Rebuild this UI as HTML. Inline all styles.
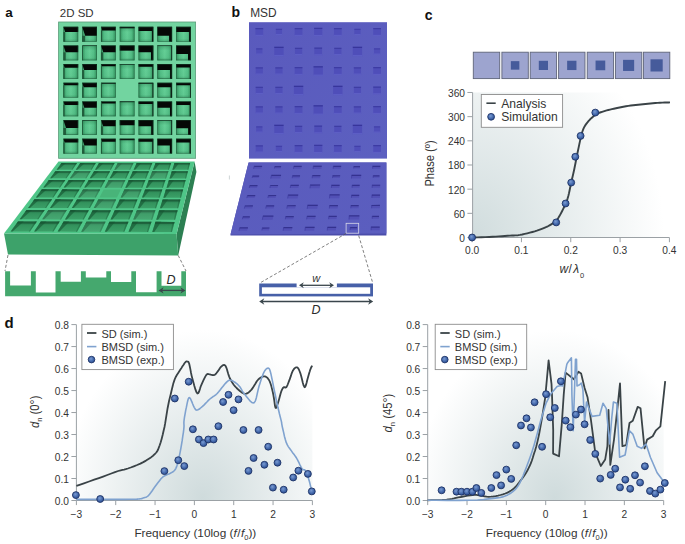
<!DOCTYPE html><html><head><meta charset="utf-8"><style>html,body{margin:0;padding:0;background:#fff;}svg{display:block;}text{font-family:"Liberation Sans",sans-serif;}</style></head><body>
<svg width="685" height="544" viewBox="0 0 685 544">
<defs>
<linearGradient id="gcellh" x1="0" y1="0" x2="1" y2="0"><stop offset="0" stop-color="#338f5c"/><stop offset="0.22" stop-color="#54bf87"/><stop offset="0.5" stop-color="#64cf96"/><stop offset="0.78" stop-color="#54bf87"/><stop offset="1" stop-color="#338f5c"/></linearGradient>
<linearGradient id="gcellv" x1="0" y1="0" x2="0" y2="1"><stop offset="0" stop-color="#1e6a40" stop-opacity="0.35"/><stop offset="0.35" stop-color="#1e6a40" stop-opacity="0"/><stop offset="0.8" stop-color="#1e6a40" stop-opacity="0.05"/><stop offset="1" stop-color="#1e6a40" stop-opacity="0.35"/></linearGradient>
<linearGradient id="scell" x1="0" y1="0" x2="0" y2="1"><stop offset="0" stop-color="#236f46"/><stop offset="0.4" stop-color="#33935d"/><stop offset="1" stop-color="#3b9f67"/></linearGradient>
<radialGradient id="svig" cx="0.6" cy="0.62" r="0.75"><stop offset="0" stop-color="#0c3a20" stop-opacity="0"/><stop offset="0.55" stop-color="#0c3a20" stop-opacity="0"/><stop offset="1" stop-color="#0c3a20" stop-opacity="0.55"/></radialGradient>
<radialGradient id="ptg" cx="0.42" cy="0.38" r="0.65"><stop offset="0" stop-color="#7a9bd2"/><stop offset="0.6" stop-color="#4368ab"/><stop offset="1" stop-color="#2c4f92"/></radialGradient>
<radialGradient id="cg" gradientUnits="userSpaceOnUse" cx="472" cy="237.5" r="192" gradientTransform="translate(472 237.5) scale(1 1.2) translate(-472 -237.5)"><stop offset="0" stop-color="#d0dcdd"/><stop offset="1" stop-color="#ffffff"/></radialGradient>
<radialGradient id="dg1" gradientUnits="userSpaceOnUse" cx="203" cy="498" r="140" gradientTransform="translate(203 498) scale(1 1.2) translate(-203 -498)"><stop offset="0" stop-color="#cfdbdc"/><stop offset="1" stop-color="#ffffff"/></radialGradient>
<radialGradient id="dg2" gradientUnits="userSpaceOnUse" cx="555" cy="498" r="140" gradientTransform="translate(555 498) scale(1 1.2) translate(-555 -498)"><stop offset="0" stop-color="#cfdbdc"/><stop offset="1" stop-color="#ffffff"/></radialGradient>
<linearGradient id="bplate" x1="0" y1="0" x2="1" y2="1"><stop offset="0" stop-color="#5a5abd"/><stop offset="1" stop-color="#5c60c0"/></linearGradient>
<linearGradient id="bslab" x1="0" y1="0" x2="1" y2="1"><stop offset="0" stop-color="#5a5bbd"/><stop offset="1" stop-color="#5b5ebf"/></linearGradient>
</defs>
<rect width="685" height="544" fill="#fff"/>
<text x="5.2" y="16.8" font-weight="bold" font-size="13.5" fill="#111">a</text>
<text x="231.5" y="16.6" font-weight="bold" font-size="14" fill="#111">b</text>
<text x="424.7" y="19.5" font-weight="bold" font-size="14" fill="#111">c</text>
<text x="4.4" y="328" font-weight="bold" font-size="15" fill="#111">d</text>
<text x="59.8" y="17.2" font-size="11.5" fill="#333">2D SD</text>
<text x="250.2" y="16.7" font-size="11.9" fill="#333">MSD</text>
<rect x="58.6" y="22.0" width="137.0" height="136.3" fill="#72d4a0" stroke="#5a9c78" stroke-width="0.8"/>
<rect x="63.40" y="26.80" width="14.8" height="14.9" fill="url(#gcellh)"/>
<rect x="63.40" y="26.80" width="14.8" height="14.9" fill="url(#gcellv)"/>
<rect x="63.40" y="32.02" width="1.75" height="9.69" fill="#1c5234" opacity="0.85"/>
<polygon points="63.40,26.80 78.20,26.80 78.20,32.02 65.15,32.02" fill="#050806"/>
<rect x="63.75" y="27.15" width="14.10" height="14.20" fill="none" stroke="#1d5236" stroke-width="0.7" opacity="0.6"/>
<rect x="82.18" y="26.80" width="14.8" height="14.9" fill="url(#gcellh)"/>
<rect x="82.18" y="26.80" width="14.8" height="14.9" fill="url(#gcellv)"/>
<rect x="82.18" y="35.74" width="3.00" height="5.96" fill="#1c5234" opacity="0.85"/>
<polygon points="82.18,26.80 96.98,26.80 96.98,35.74 85.18,35.74" fill="#050806"/>
<rect x="82.53" y="27.15" width="14.10" height="14.20" fill="none" stroke="#1d5236" stroke-width="0.7" opacity="0.6"/>
<rect x="100.96" y="26.80" width="14.8" height="14.9" fill="url(#gcellh)"/>
<rect x="100.96" y="26.80" width="14.8" height="14.9" fill="url(#gcellv)"/>
<rect x="100.96" y="30.38" width="1.20" height="11.32" fill="#1c5234" opacity="0.85"/>
<polygon points="100.96,26.80 115.76,26.80 115.76,30.38 102.16,30.38" fill="#050806"/>
<rect x="101.31" y="27.15" width="14.10" height="14.20" fill="none" stroke="#1d5236" stroke-width="0.7" opacity="0.6"/>
<rect x="119.74" y="26.80" width="14.8" height="14.9" fill="url(#gcellh)"/>
<rect x="119.74" y="26.80" width="14.8" height="14.9" fill="url(#gcellv)"/>
<rect x="119.74" y="26.80" width="14.8" height="1.49" fill="#050806"/>
<rect x="120.09" y="27.15" width="14.10" height="14.20" fill="none" stroke="#1d5236" stroke-width="0.7" opacity="0.6"/>
<rect x="138.52" y="26.80" width="14.8" height="14.9" fill="url(#gcellh)"/>
<rect x="138.52" y="26.80" width="14.8" height="14.9" fill="url(#gcellv)"/>
<polygon points="138.52,26.80 153.32,26.80 153.32,41.70 151.92,41.70 151.92,30.97 138.52,30.97" fill="#050806"/>
<rect x="138.87" y="27.15" width="14.10" height="14.20" fill="none" stroke="#1d5236" stroke-width="0.7" opacity="0.6"/>
<rect x="157.30" y="26.80" width="14.8" height="14.9" fill="url(#gcellh)"/>
<rect x="157.30" y="26.80" width="14.8" height="14.9" fill="url(#gcellv)"/>
<polygon points="157.30,26.80 172.10,26.80 172.10,41.70 169.10,41.70 169.10,35.74 157.30,35.74" fill="#050806"/>
<rect x="157.65" y="27.15" width="14.10" height="14.20" fill="none" stroke="#1d5236" stroke-width="0.7" opacity="0.6"/>
<rect x="176.08" y="26.80" width="14.8" height="14.9" fill="url(#gcellh)"/>
<rect x="176.08" y="26.80" width="14.8" height="14.9" fill="url(#gcellv)"/>
<polygon points="176.08,26.80 190.88,26.80 190.88,41.70 189.13,41.70 189.13,32.02 176.08,32.02" fill="#050806"/>
<rect x="176.43" y="27.15" width="14.10" height="14.20" fill="none" stroke="#1d5236" stroke-width="0.7" opacity="0.6"/>
<rect x="63.40" y="45.45" width="14.8" height="14.9" fill="url(#gcellh)"/>
<rect x="63.40" y="45.45" width="14.8" height="14.9" fill="url(#gcellv)"/>
<rect x="63.40" y="52.30" width="2.30" height="8.05" fill="#1c5234" opacity="0.85"/>
<polygon points="63.40,45.45 78.20,45.45 78.20,52.30 65.70,52.30" fill="#050806"/>
<rect x="63.75" y="45.80" width="14.10" height="14.20" fill="none" stroke="#1d5236" stroke-width="0.7" opacity="0.6"/>
<rect x="82.18" y="45.45" width="14.8" height="14.9" fill="url(#gcellh)"/>
<rect x="82.18" y="45.45" width="14.8" height="14.9" fill="url(#gcellv)"/>
<rect x="82.18" y="45.90" width="0.80" height="14.45" fill="#1c5234" opacity="0.85"/>
<polygon points="82.18,45.45 96.98,45.45 96.98,45.90 82.98,45.90" fill="#050806"/>
<rect x="82.53" y="45.80" width="14.10" height="14.20" fill="none" stroke="#1d5236" stroke-width="0.7" opacity="0.6"/>
<rect x="100.96" y="45.45" width="14.8" height="14.9" fill="url(#gcellh)"/>
<rect x="100.96" y="45.45" width="14.8" height="14.9" fill="url(#gcellv)"/>
<rect x="100.96" y="52.30" width="2.30" height="8.05" fill="#1c5234" opacity="0.85"/>
<polygon points="100.96,45.45 115.76,45.45 115.76,52.30 103.26,52.30" fill="#050806"/>
<rect x="101.31" y="45.80" width="14.10" height="14.20" fill="none" stroke="#1d5236" stroke-width="0.7" opacity="0.6"/>
<rect x="119.74" y="45.45" width="14.8" height="14.9" fill="url(#gcellh)"/>
<rect x="119.74" y="45.45" width="14.8" height="14.9" fill="url(#gcellv)"/>
<rect x="119.74" y="45.45" width="14.8" height="5.21" fill="#050806"/>
<rect x="120.09" y="45.80" width="14.10" height="14.20" fill="none" stroke="#1d5236" stroke-width="0.7" opacity="0.6"/>
<rect x="138.52" y="45.45" width="14.8" height="14.9" fill="url(#gcellh)"/>
<rect x="138.52" y="45.45" width="14.8" height="14.9" fill="url(#gcellv)"/>
<polygon points="138.52,45.45 153.32,45.45 153.32,60.35 151.02,60.35 151.02,52.30 138.52,52.30" fill="#050806"/>
<rect x="138.87" y="45.80" width="14.10" height="14.20" fill="none" stroke="#1d5236" stroke-width="0.7" opacity="0.6"/>
<rect x="157.30" y="45.45" width="14.8" height="14.9" fill="url(#gcellh)"/>
<rect x="157.30" y="45.45" width="14.8" height="14.9" fill="url(#gcellv)"/>
<polygon points="157.30,45.45 172.10,45.45 172.10,60.35 171.30,60.35 171.30,45.90 157.30,45.90" fill="#050806"/>
<rect x="157.65" y="45.80" width="14.10" height="14.20" fill="none" stroke="#1d5236" stroke-width="0.7" opacity="0.6"/>
<rect x="176.08" y="45.45" width="14.8" height="14.9" fill="url(#gcellh)"/>
<rect x="176.08" y="45.45" width="14.8" height="14.9" fill="url(#gcellv)"/>
<polygon points="176.08,45.45 190.88,45.45 190.88,60.35 188.03,60.35 188.03,53.94 176.08,53.94" fill="#050806"/>
<rect x="176.43" y="45.80" width="14.10" height="14.20" fill="none" stroke="#1d5236" stroke-width="0.7" opacity="0.6"/>
<rect x="63.40" y="64.10" width="14.8" height="14.9" fill="url(#gcellh)"/>
<rect x="63.40" y="64.10" width="14.8" height="14.9" fill="url(#gcellv)"/>
<rect x="63.40" y="67.82" width="1.25" height="11.18" fill="#1c5234" opacity="0.85"/>
<polygon points="63.40,64.10 78.20,64.10 78.20,67.82 64.65,67.82" fill="#050806"/>
<rect x="63.75" y="64.45" width="14.10" height="14.20" fill="none" stroke="#1d5236" stroke-width="0.7" opacity="0.6"/>
<rect x="82.18" y="64.10" width="14.8" height="14.9" fill="url(#gcellh)"/>
<rect x="82.18" y="64.10" width="14.8" height="14.9" fill="url(#gcellv)"/>
<rect x="82.18" y="70.06" width="2.00" height="8.94" fill="#1c5234" opacity="0.85"/>
<polygon points="82.18,64.10 96.98,64.10 96.98,70.06 84.18,70.06" fill="#050806"/>
<rect x="82.53" y="64.45" width="14.10" height="14.20" fill="none" stroke="#1d5236" stroke-width="0.7" opacity="0.6"/>
<rect x="100.96" y="64.10" width="14.8" height="14.9" fill="url(#gcellh)"/>
<rect x="100.96" y="64.10" width="14.8" height="14.9" fill="url(#gcellv)"/>
<rect x="100.96" y="66.19" width="0.80" height="12.81" fill="#1c5234" opacity="0.85"/>
<polygon points="100.96,64.10 115.76,64.10 115.76,66.19 101.76,66.19" fill="#050806"/>
<rect x="101.31" y="64.45" width="14.10" height="14.20" fill="none" stroke="#1d5236" stroke-width="0.7" opacity="0.6"/>
<rect x="119.74" y="64.10" width="14.8" height="14.9" fill="url(#gcellh)"/>
<rect x="119.74" y="64.10" width="14.8" height="14.9" fill="url(#gcellv)"/>
<rect x="119.74" y="64.10" width="14.8" height="0.60" fill="#050806"/>
<rect x="120.09" y="64.45" width="14.10" height="14.20" fill="none" stroke="#1d5236" stroke-width="0.7" opacity="0.6"/>
<rect x="138.52" y="64.10" width="14.8" height="14.9" fill="url(#gcellh)"/>
<rect x="138.52" y="64.10" width="14.8" height="14.9" fill="url(#gcellv)"/>
<polygon points="138.52,64.10 153.32,64.10 153.32,79.00 152.42,79.00 152.42,66.78 138.52,66.78" fill="#050806"/>
<rect x="138.87" y="64.45" width="14.10" height="14.20" fill="none" stroke="#1d5236" stroke-width="0.7" opacity="0.6"/>
<rect x="157.30" y="64.10" width="14.8" height="14.9" fill="url(#gcellh)"/>
<rect x="157.30" y="64.10" width="14.8" height="14.9" fill="url(#gcellv)"/>
<polygon points="157.30,64.10 172.10,64.10 172.10,79.00 170.10,79.00 170.10,70.06 157.30,70.06" fill="#050806"/>
<rect x="157.65" y="64.45" width="14.10" height="14.20" fill="none" stroke="#1d5236" stroke-width="0.7" opacity="0.6"/>
<rect x="176.08" y="64.10" width="14.8" height="14.9" fill="url(#gcellh)"/>
<rect x="176.08" y="64.10" width="14.8" height="14.9" fill="url(#gcellv)"/>
<polygon points="176.08,64.10 190.88,64.10 190.88,79.00 189.78,79.00 189.78,67.38 176.08,67.38" fill="#050806"/>
<rect x="176.43" y="64.45" width="14.10" height="14.20" fill="none" stroke="#1d5236" stroke-width="0.7" opacity="0.6"/>
<rect x="63.40" y="82.75" width="14.8" height="14.9" fill="url(#gcellh)"/>
<rect x="63.40" y="82.75" width="14.8" height="14.9" fill="url(#gcellv)"/>
<rect x="63.40" y="85.28" width="0.85" height="12.37" fill="#1c5234" opacity="0.85"/>
<polygon points="63.40,82.75 78.20,82.75 78.20,85.28 64.25,85.28" fill="#050806"/>
<rect x="63.75" y="83.10" width="14.10" height="14.20" fill="none" stroke="#1d5236" stroke-width="0.7" opacity="0.6"/>
<rect x="82.18" y="82.75" width="14.8" height="14.9" fill="url(#gcellh)"/>
<rect x="82.18" y="82.75" width="14.8" height="14.9" fill="url(#gcellv)"/>
<rect x="82.18" y="87.22" width="1.50" height="10.43" fill="#1c5234" opacity="0.85"/>
<polygon points="82.18,82.75 96.98,82.75 96.98,87.22 83.68,87.22" fill="#050806"/>
<rect x="82.53" y="83.10" width="14.10" height="14.20" fill="none" stroke="#1d5236" stroke-width="0.7" opacity="0.6"/>
<rect x="100.96" y="82.75" width="14.8" height="14.9" fill="url(#gcellh)"/>
<rect x="100.96" y="82.75" width="14.8" height="14.9" fill="url(#gcellv)"/>
<rect x="100.96" y="83.79" width="0.80" height="13.86" fill="#1c5234" opacity="0.85"/>
<polygon points="100.96,82.75 115.76,82.75 115.76,83.79 101.76,83.79" fill="#050806"/>
<rect x="101.31" y="83.10" width="14.10" height="14.20" fill="none" stroke="#1d5236" stroke-width="0.7" opacity="0.6"/>
<rect x="138.52" y="82.75" width="14.8" height="14.9" fill="url(#gcellh)"/>
<rect x="138.52" y="82.75" width="14.8" height="14.9" fill="url(#gcellv)"/>
<polygon points="138.52,82.75 153.32,82.75 153.32,97.65 152.52,97.65 152.52,83.79 138.52,83.79" fill="#050806"/>
<rect x="138.87" y="83.10" width="14.10" height="14.20" fill="none" stroke="#1d5236" stroke-width="0.7" opacity="0.6"/>
<rect x="157.30" y="82.75" width="14.8" height="14.9" fill="url(#gcellh)"/>
<rect x="157.30" y="82.75" width="14.8" height="14.9" fill="url(#gcellv)"/>
<polygon points="157.30,82.75 172.10,82.75 172.10,97.65 170.60,97.65 170.60,87.22 157.30,87.22" fill="#050806"/>
<rect x="157.65" y="83.10" width="14.10" height="14.20" fill="none" stroke="#1d5236" stroke-width="0.7" opacity="0.6"/>
<rect x="176.08" y="82.75" width="14.8" height="14.9" fill="url(#gcellh)"/>
<rect x="176.08" y="82.75" width="14.8" height="14.9" fill="url(#gcellv)"/>
<polygon points="176.08,82.75 190.88,82.75 190.88,97.65 190.03,97.65 190.03,85.28 176.08,85.28" fill="#050806"/>
<rect x="176.43" y="83.10" width="14.10" height="14.20" fill="none" stroke="#1d5236" stroke-width="0.7" opacity="0.6"/>
<rect x="63.40" y="101.40" width="14.8" height="14.9" fill="url(#gcellh)"/>
<rect x="63.40" y="101.40" width="14.8" height="14.9" fill="url(#gcellv)"/>
<rect x="63.40" y="104.98" width="1.20" height="11.32" fill="#1c5234" opacity="0.85"/>
<polygon points="63.40,101.40 78.20,101.40 78.20,104.98 64.60,104.98" fill="#050806"/>
<rect x="63.75" y="101.75" width="14.10" height="14.20" fill="none" stroke="#1d5236" stroke-width="0.7" opacity="0.6"/>
<rect x="82.18" y="101.40" width="14.8" height="14.9" fill="url(#gcellh)"/>
<rect x="82.18" y="101.40" width="14.8" height="14.9" fill="url(#gcellv)"/>
<rect x="82.18" y="107.66" width="2.10" height="8.64" fill="#1c5234" opacity="0.85"/>
<polygon points="82.18,101.40 96.98,101.40 96.98,107.66 84.28,107.66" fill="#050806"/>
<rect x="82.53" y="101.75" width="14.10" height="14.20" fill="none" stroke="#1d5236" stroke-width="0.7" opacity="0.6"/>
<rect x="100.96" y="101.40" width="14.8" height="14.9" fill="url(#gcellh)"/>
<rect x="100.96" y="101.40" width="14.8" height="14.9" fill="url(#gcellv)"/>
<rect x="100.96" y="103.49" width="0.80" height="12.81" fill="#1c5234" opacity="0.85"/>
<polygon points="100.96,101.40 115.76,101.40 115.76,103.49 101.76,103.49" fill="#050806"/>
<rect x="101.31" y="101.75" width="14.10" height="14.20" fill="none" stroke="#1d5236" stroke-width="0.7" opacity="0.6"/>
<rect x="119.74" y="101.40" width="14.8" height="14.9" fill="url(#gcellh)"/>
<rect x="119.74" y="101.40" width="14.8" height="14.9" fill="url(#gcellv)"/>
<rect x="119.74" y="101.40" width="14.8" height="0.75" fill="#050806"/>
<rect x="120.09" y="101.75" width="14.10" height="14.20" fill="none" stroke="#1d5236" stroke-width="0.7" opacity="0.6"/>
<rect x="138.52" y="101.40" width="14.8" height="14.9" fill="url(#gcellh)"/>
<rect x="138.52" y="101.40" width="14.8" height="14.9" fill="url(#gcellv)"/>
<polygon points="138.52,101.40 153.32,101.40 153.32,116.30 152.47,116.30 152.47,103.93 138.52,103.93" fill="#050806"/>
<rect x="138.87" y="101.75" width="14.10" height="14.20" fill="none" stroke="#1d5236" stroke-width="0.7" opacity="0.6"/>
<rect x="157.30" y="101.40" width="14.8" height="14.9" fill="url(#gcellh)"/>
<rect x="157.30" y="101.40" width="14.8" height="14.9" fill="url(#gcellv)"/>
<polygon points="157.30,101.40 172.10,101.40 172.10,116.30 170.00,116.30 170.00,107.66 157.30,107.66" fill="#050806"/>
<rect x="157.65" y="101.75" width="14.10" height="14.20" fill="none" stroke="#1d5236" stroke-width="0.7" opacity="0.6"/>
<rect x="176.08" y="101.40" width="14.8" height="14.9" fill="url(#gcellh)"/>
<rect x="176.08" y="101.40" width="14.8" height="14.9" fill="url(#gcellv)"/>
<polygon points="176.08,101.40 190.88,101.40 190.88,116.30 189.68,116.30 189.68,104.98 176.08,104.98" fill="#050806"/>
<rect x="176.43" y="101.75" width="14.10" height="14.20" fill="none" stroke="#1d5236" stroke-width="0.7" opacity="0.6"/>
<rect x="63.40" y="120.05" width="14.8" height="14.9" fill="url(#gcellh)"/>
<rect x="63.40" y="120.05" width="14.8" height="14.9" fill="url(#gcellv)"/>
<rect x="63.40" y="127.95" width="2.65" height="7.00" fill="#1c5234" opacity="0.85"/>
<polygon points="63.40,120.05 78.20,120.05 78.20,127.95 66.05,127.95" fill="#050806"/>
<rect x="63.75" y="120.40" width="14.10" height="14.20" fill="none" stroke="#1d5236" stroke-width="0.7" opacity="0.6"/>
<rect x="82.18" y="120.05" width="14.8" height="14.9" fill="url(#gcellh)"/>
<rect x="82.18" y="120.05" width="14.8" height="14.9" fill="url(#gcellv)"/>
<rect x="82.18" y="120.50" width="0.80" height="14.45" fill="#1c5234" opacity="0.85"/>
<polygon points="82.18,120.05 96.98,120.05 96.98,120.50 82.98,120.50" fill="#050806"/>
<rect x="82.53" y="120.40" width="14.10" height="14.20" fill="none" stroke="#1d5236" stroke-width="0.7" opacity="0.6"/>
<rect x="100.96" y="120.05" width="14.8" height="14.9" fill="url(#gcellh)"/>
<rect x="100.96" y="120.05" width="14.8" height="14.9" fill="url(#gcellv)"/>
<rect x="100.96" y="126.31" width="2.10" height="8.64" fill="#1c5234" opacity="0.85"/>
<polygon points="100.96,120.05 115.76,120.05 115.76,126.31 103.06,126.31" fill="#050806"/>
<rect x="101.31" y="120.40" width="14.10" height="14.20" fill="none" stroke="#1d5236" stroke-width="0.7" opacity="0.6"/>
<rect x="119.74" y="120.05" width="14.8" height="14.9" fill="url(#gcellh)"/>
<rect x="119.74" y="120.05" width="14.8" height="14.9" fill="url(#gcellv)"/>
<rect x="119.74" y="120.05" width="14.8" height="5.21" fill="#050806"/>
<rect x="120.09" y="120.40" width="14.10" height="14.20" fill="none" stroke="#1d5236" stroke-width="0.7" opacity="0.6"/>
<rect x="138.52" y="120.05" width="14.8" height="14.9" fill="url(#gcellh)"/>
<rect x="138.52" y="120.05" width="14.8" height="14.9" fill="url(#gcellv)"/>
<polygon points="138.52,120.05 153.32,120.05 153.32,134.95 151.22,134.95 151.22,126.31 138.52,126.31" fill="#050806"/>
<rect x="138.87" y="120.40" width="14.10" height="14.20" fill="none" stroke="#1d5236" stroke-width="0.7" opacity="0.6"/>
<rect x="157.30" y="120.05" width="14.8" height="14.9" fill="url(#gcellh)"/>
<rect x="157.30" y="120.05" width="14.8" height="14.9" fill="url(#gcellv)"/>
<polygon points="157.30,120.05 172.10,120.05 172.10,134.95 171.30,134.95 171.30,120.50 157.30,120.50" fill="#050806"/>
<rect x="157.65" y="120.40" width="14.10" height="14.20" fill="none" stroke="#1d5236" stroke-width="0.7" opacity="0.6"/>
<rect x="176.08" y="120.05" width="14.8" height="14.9" fill="url(#gcellh)"/>
<rect x="176.08" y="120.05" width="14.8" height="14.9" fill="url(#gcellv)"/>
<polygon points="176.08,120.05 190.88,120.05 190.88,134.95 188.13,134.95 188.13,128.25 176.08,128.25" fill="#050806"/>
<rect x="176.43" y="120.40" width="14.10" height="14.20" fill="none" stroke="#1d5236" stroke-width="0.7" opacity="0.6"/>
<rect x="63.40" y="138.70" width="14.8" height="14.9" fill="url(#gcellh)"/>
<rect x="63.40" y="138.70" width="14.8" height="14.9" fill="url(#gcellv)"/>
<rect x="63.40" y="142.57" width="1.30" height="11.03" fill="#1c5234" opacity="0.85"/>
<polygon points="63.40,138.70 78.20,138.70 78.20,142.57 64.70,142.57" fill="#050806"/>
<rect x="63.75" y="139.05" width="14.10" height="14.20" fill="none" stroke="#1d5236" stroke-width="0.7" opacity="0.6"/>
<rect x="82.18" y="138.70" width="14.8" height="14.9" fill="url(#gcellh)"/>
<rect x="82.18" y="138.70" width="14.8" height="14.9" fill="url(#gcellv)"/>
<rect x="82.18" y="145.41" width="2.25" height="8.20" fill="#1c5234" opacity="0.85"/>
<polygon points="82.18,138.70 96.98,138.70 96.98,145.41 84.43,145.41" fill="#050806"/>
<rect x="82.53" y="139.05" width="14.10" height="14.20" fill="none" stroke="#1d5236" stroke-width="0.7" opacity="0.6"/>
<rect x="100.96" y="138.70" width="14.8" height="14.9" fill="url(#gcellh)"/>
<rect x="100.96" y="138.70" width="14.8" height="14.9" fill="url(#gcellv)"/>
<rect x="100.96" y="141.68" width="1.00" height="11.92" fill="#1c5234" opacity="0.85"/>
<polygon points="100.96,138.70 115.76,138.70 115.76,141.68 101.96,141.68" fill="#050806"/>
<rect x="101.31" y="139.05" width="14.10" height="14.20" fill="none" stroke="#1d5236" stroke-width="0.7" opacity="0.6"/>
<rect x="119.74" y="138.70" width="14.8" height="14.9" fill="url(#gcellh)"/>
<rect x="119.74" y="138.70" width="14.8" height="14.9" fill="url(#gcellv)"/>
<rect x="119.74" y="138.70" width="14.8" height="1.49" fill="#050806"/>
<rect x="120.09" y="139.05" width="14.10" height="14.20" fill="none" stroke="#1d5236" stroke-width="0.7" opacity="0.6"/>
<rect x="138.52" y="138.70" width="14.8" height="14.9" fill="url(#gcellh)"/>
<rect x="138.52" y="138.70" width="14.8" height="14.9" fill="url(#gcellv)"/>
<polygon points="138.52,138.70 153.32,138.70 153.32,153.60 152.32,153.60 152.32,141.68 138.52,141.68" fill="#050806"/>
<rect x="138.87" y="139.05" width="14.10" height="14.20" fill="none" stroke="#1d5236" stroke-width="0.7" opacity="0.6"/>
<rect x="157.30" y="138.70" width="14.8" height="14.9" fill="url(#gcellh)"/>
<rect x="157.30" y="138.70" width="14.8" height="14.9" fill="url(#gcellv)"/>
<polygon points="157.30,138.70 172.10,138.70 172.10,153.60 169.85,153.60 169.85,145.41 157.30,145.41" fill="#050806"/>
<rect x="157.65" y="139.05" width="14.10" height="14.20" fill="none" stroke="#1d5236" stroke-width="0.7" opacity="0.6"/>
<rect x="176.08" y="138.70" width="14.8" height="14.9" fill="url(#gcellh)"/>
<rect x="176.08" y="138.70" width="14.8" height="14.9" fill="url(#gcellv)"/>
<polygon points="176.08,138.70 190.88,138.70 190.88,153.60 189.58,153.60 189.58,142.57 176.08,142.57" fill="#050806"/>
<rect x="176.43" y="139.05" width="14.10" height="14.20" fill="none" stroke="#1d5236" stroke-width="0.7" opacity="0.6"/>
<polygon points="194.6,161.6 196.4,172 178.2,255.4 176.6,234.0" fill="#2c7f52"/>
<polygon points="4.0,233.4 176.6,234.0 178.2,255.4 8.0,254.6" fill="#3da26a"/>
<polygon points="58.5,161.6 194.6,161.6 176.6,234.0 4.0,233.4" fill="#4fc688"/>
<polygon points="61.54,162.96 77.01,162.97 72.43,169.65 56.57,169.64" fill="url(#scell)" />
<polygon points="61.54,162.96 66.18,162.97 58.16,169.64 56.57,169.64" fill="#1b6039" opacity="0.75"/>
<polygon points="75.46,162.97 77.01,162.97 72.43,169.65 71.48,169.65" fill="#1b6039" opacity="0.45"/>
<polygon points="61.54,162.96 77.01,162.97 76.02,164.41 60.47,164.41" fill="#164f2f" opacity="0.55"/>
<polygon points="80.28,162.97 95.78,162.97 91.66,169.66 75.78,169.65" fill="url(#scell)" />
<polygon points="80.28,162.97 84.93,162.97 77.36,169.65 75.78,169.65" fill="#1b6039" opacity="0.75"/>
<polygon points="94.23,162.97 95.78,162.97 91.66,169.66 90.71,169.66" fill="#1b6039" opacity="0.45"/>
<polygon points="80.28,162.97 95.78,162.97 94.89,164.41 79.31,164.41" fill="#164f2f" opacity="0.55"/>
<polygon points="99.05,162.97 114.58,162.97 110.93,169.66 95.01,169.66" fill="url(#scell)" />
<polygon points="99.05,162.97 103.71,162.97 96.60,169.66 95.01,169.66" fill="#1b6039" opacity="0.75"/>
<polygon points="113.03,162.97 114.58,162.97 110.93,169.66 109.97,169.66" fill="#1b6039" opacity="0.45"/>
<polygon points="99.05,162.97 114.58,162.97 113.79,164.41 98.18,164.41" fill="#164f2f" opacity="0.55"/>
<polygon points="117.86,162.97 133.42,162.97 130.23,169.67 114.29,169.67" fill="url(#scell)" />
<polygon points="117.86,162.97 122.53,162.97 115.88,169.67 114.29,169.67" fill="#1b6039" opacity="0.75"/>
<polygon points="131.86,162.97 133.42,162.97 130.23,169.67 129.27,169.67" fill="#1b6039" opacity="0.45"/>
<polygon points="117.86,162.97 133.42,162.97 132.73,164.42 117.09,164.41" fill="#164f2f" opacity="0.55"/>
<polygon points="117.86,162.97 133.42,162.97 130.23,169.67 114.29,169.67" fill="#8fe0b5" opacity="0.15"/>
<polygon points="136.70,162.97 152.29,162.97 149.57,169.68 133.60,169.67" fill="url(#scell)" />
<polygon points="136.70,162.97 141.38,162.97 135.19,169.67 133.60,169.67" fill="#1b6039" opacity="0.75"/>
<polygon points="150.73,162.97 152.29,162.97 149.57,169.68 148.61,169.68" fill="#1b6039" opacity="0.45"/>
<polygon points="136.70,162.97 152.29,162.97 151.70,164.42 136.03,164.42" fill="#164f2f" opacity="0.55"/>
<polygon points="155.58,162.97 171.19,162.97 168.94,169.69 152.94,169.68" fill="url(#scell)" />
<polygon points="155.58,162.97 160.26,162.97 154.54,169.68 152.94,169.68" fill="#1b6039" opacity="0.75"/>
<polygon points="169.63,162.97 171.19,162.97 168.94,169.69 167.98,169.69" fill="#1b6039" opacity="0.45"/>
<polygon points="155.58,162.97 171.19,162.97 170.71,164.42 155.01,164.42" fill="#164f2f" opacity="0.55"/>
<polygon points="174.49,162.97 190.13,162.97 188.35,169.69 172.32,169.69" fill="url(#scell)" />
<polygon points="174.49,162.97 179.18,162.97 173.92,169.69 172.32,169.69" fill="#1b6039" opacity="0.75"/>
<polygon points="188.56,162.97 190.13,162.97 188.35,169.69 187.39,169.69" fill="#1b6039" opacity="0.45"/>
<polygon points="174.49,162.97 190.13,162.97 189.75,164.42 174.02,164.42" fill="#164f2f" opacity="0.55"/>
<polygon points="55.41,171.21 71.35,171.22 66.47,178.33 50.12,178.31" fill="url(#scell)" />
<polygon points="55.41,171.21 60.19,171.22 51.76,178.32 50.12,178.31" fill="#1b6039" opacity="0.75"/>
<polygon points="69.75,171.22 71.35,171.22 66.47,178.33 65.49,178.33" fill="#1b6039" opacity="0.45"/>
<polygon points="55.41,171.21 71.35,171.22 70.30,172.75 54.27,172.75" fill="#164f2f" opacity="0.55"/>
<polygon points="74.72,171.22 90.69,171.23 86.31,178.34 69.93,178.33" fill="url(#scell)" />
<polygon points="74.72,171.22 79.51,171.22 71.56,178.33 69.93,178.33" fill="#1b6039" opacity="0.75"/>
<polygon points="89.09,171.23 90.69,171.23 86.31,178.34 85.32,178.34" fill="#1b6039" opacity="0.45"/>
<polygon points="74.72,171.22 90.69,171.23 89.74,172.76 73.68,172.76" fill="#164f2f" opacity="0.55"/>
<polygon points="74.72,171.22 90.69,171.23 86.31,178.34 69.93,178.33" fill="#8fe0b5" opacity="0.15"/>
<polygon points="94.06,171.23 110.07,171.24 106.18,178.36 89.77,178.35" fill="url(#scell)" />
<polygon points="94.06,171.23 98.86,171.23 91.41,178.35 89.77,178.35" fill="#1b6039" opacity="0.75"/>
<polygon points="108.47,171.24 110.07,171.24 106.18,178.36 105.19,178.36" fill="#1b6039" opacity="0.45"/>
<polygon points="94.06,171.23 110.07,171.24 109.23,172.77 93.14,172.77" fill="#164f2f" opacity="0.55"/>
<polygon points="113.45,171.24 129.48,171.25 126.09,178.38 109.65,178.36" fill="url(#scell)" />
<polygon points="113.45,171.24 118.25,171.24 111.29,178.36 109.65,178.36" fill="#1b6039" opacity="0.75"/>
<polygon points="127.87,171.25 129.48,171.25 126.09,178.38 125.10,178.38" fill="#1b6039" opacity="0.45"/>
<polygon points="113.45,171.24 129.48,171.25 128.75,172.79 112.63,172.78" fill="#164f2f" opacity="0.55"/>
<polygon points="132.87,171.25 148.93,171.26 146.04,178.39 129.56,178.38" fill="url(#scell)" />
<polygon points="132.87,171.25 137.68,171.25 131.21,178.38 129.56,178.38" fill="#1b6039" opacity="0.75"/>
<polygon points="147.32,171.26 148.93,171.26 146.04,178.39 145.05,178.39" fill="#1b6039" opacity="0.45"/>
<polygon points="132.87,171.25 148.93,171.26 148.30,172.80 132.15,172.79" fill="#164f2f" opacity="0.55"/>
<polygon points="152.32,171.26 168.41,171.27 166.02,178.41 149.52,178.40" fill="url(#scell)" />
<polygon points="152.32,171.26 157.15,171.26 151.17,178.40 149.52,178.40" fill="#1b6039" opacity="0.75"/>
<polygon points="166.80,171.27 168.41,171.27 166.02,178.41 165.03,178.41" fill="#1b6039" opacity="0.45"/>
<polygon points="152.32,171.26 168.41,171.27 167.90,172.81 151.72,172.80" fill="#164f2f" opacity="0.55"/>
<polygon points="152.32,171.26 168.41,171.27 166.02,178.41 149.52,178.40" fill="#8fe0b5" opacity="0.15"/>
<polygon points="171.81,171.27 187.94,171.27 186.05,178.42 169.51,178.41" fill="url(#scell)" />
<polygon points="171.81,171.27 176.65,171.27 171.16,178.41 169.51,178.41" fill="#1b6039" opacity="0.75"/>
<polygon points="186.32,171.27 187.94,171.27 186.05,178.42 185.06,178.42" fill="#1b6039" opacity="0.45"/>
<polygon points="171.81,171.27 187.94,171.27 187.53,172.82 171.32,172.81" fill="#164f2f" opacity="0.55"/>
<polygon points="48.88,179.99 65.33,180.00 60.13,187.57 43.25,187.55" fill="url(#scell)" />
<polygon points="48.88,179.99 53.81,179.99 44.94,187.55 43.25,187.55" fill="#1b6039" opacity="0.75"/>
<polygon points="63.68,180.00 65.33,180.00 60.13,187.57 59.12,187.57" fill="#1b6039" opacity="0.45"/>
<polygon points="48.88,179.99 65.33,180.00 64.21,181.63 47.67,181.62" fill="#164f2f" opacity="0.55"/>
<polygon points="68.80,180.00 85.28,180.02 80.61,187.60 63.70,187.58" fill="url(#scell)" />
<polygon points="68.80,180.00 73.74,180.01 65.39,187.58 63.70,187.58" fill="#1b6039" opacity="0.75"/>
<polygon points="83.63,180.02 85.28,180.02 80.61,187.60 79.59,187.60" fill="#1b6039" opacity="0.45"/>
<polygon points="68.80,180.00 85.28,180.02 84.27,181.65 67.70,181.64" fill="#164f2f" opacity="0.55"/>
<polygon points="88.76,180.02 105.26,180.04 101.12,187.62 84.18,187.60" fill="url(#scell)" />
<polygon points="88.76,180.02 93.71,180.03 85.87,187.61 84.18,187.60" fill="#1b6039" opacity="0.75"/>
<polygon points="103.61,180.03 105.26,180.04 101.12,187.62 100.10,187.62" fill="#1b6039" opacity="0.45"/>
<polygon points="88.76,180.02 105.26,180.04 104.37,181.67 87.77,181.66" fill="#164f2f" opacity="0.55"/>
<polygon points="108.75,180.04 125.29,180.05 121.68,187.65 104.70,187.63" fill="url(#scell)" />
<polygon points="108.75,180.04 113.71,180.04 106.40,187.63 104.70,187.63" fill="#1b6039" opacity="0.75"/>
<polygon points="123.64,180.05 125.29,180.05 121.68,187.65 120.66,187.65" fill="#1b6039" opacity="0.45"/>
<polygon points="108.75,180.04 125.29,180.05 124.51,181.69 107.88,181.67" fill="#164f2f" opacity="0.55"/>
<polygon points="108.75,180.04 125.29,180.05 121.68,187.65 104.70,187.63" fill="#8fe0b5" opacity="0.15"/>
<polygon points="128.78,180.06 145.36,180.07 142.28,187.68 125.26,187.65" fill="url(#scell)" />
<polygon points="128.78,180.06 133.75,180.06 126.96,187.66 125.26,187.65" fill="#1b6039" opacity="0.75"/>
<polygon points="143.70,180.07 145.36,180.07 142.28,187.68 141.25,187.67" fill="#1b6039" opacity="0.45"/>
<polygon points="128.78,180.06 145.36,180.07 144.69,181.71 128.03,181.69" fill="#164f2f" opacity="0.55"/>
<polygon points="148.86,180.07 165.46,180.09 162.91,187.70 145.87,187.68" fill="url(#scell)" />
<polygon points="148.86,180.07 153.84,180.08 147.57,187.68 145.87,187.68" fill="#1b6039" opacity="0.75"/>
<polygon points="163.80,180.09 165.46,180.09 162.91,187.70 161.89,187.70" fill="#1b6039" opacity="0.45"/>
<polygon points="148.86,180.07 165.46,180.09 164.91,181.73 148.21,181.71" fill="#164f2f" opacity="0.55"/>
<polygon points="168.97,180.09 185.60,180.11 183.59,187.73 166.51,187.71" fill="url(#scell)" />
<polygon points="168.97,180.09 173.96,180.10 168.22,187.71 166.51,187.71" fill="#1b6039" opacity="0.75"/>
<polygon points="183.94,180.11 185.60,180.11 183.59,187.73 182.57,187.73" fill="#1b6039" opacity="0.45"/>
<polygon points="168.97,180.09 185.60,180.11 185.17,181.75 168.44,181.73" fill="#164f2f" opacity="0.55"/>
<polygon points="41.93,189.33 58.91,189.36 53.36,197.44 35.92,197.41" fill="url(#scell)" />
<polygon points="41.93,189.33 47.02,189.34 37.66,197.41 35.92,197.41" fill="#1b6039" opacity="0.75"/>
<polygon points="57.21,189.35 58.91,189.36 53.36,197.44 52.31,197.44" fill="#1b6039" opacity="0.45"/>
<polygon points="41.93,189.33 58.91,189.36 57.71,191.10 40.63,191.07" fill="#164f2f" opacity="0.55"/>
<polygon points="62.49,189.36 79.51,189.38 74.52,197.48 57.04,197.45" fill="url(#scell)" />
<polygon points="62.49,189.36 67.59,189.37 58.79,197.45 57.04,197.45" fill="#1b6039" opacity="0.75"/>
<polygon points="77.80,189.38 79.51,189.38 74.52,197.48 73.47,197.48" fill="#1b6039" opacity="0.45"/>
<polygon points="62.49,189.36 79.51,189.38 78.43,191.13 61.32,191.10" fill="#164f2f" opacity="0.55"/>
<polygon points="83.10,189.39 100.15,189.41 95.72,197.51 78.21,197.48" fill="url(#scell)" />
<polygon points="83.10,189.39 88.21,189.40 79.96,197.49 78.21,197.48" fill="#1b6039" opacity="0.75"/>
<polygon points="98.44,189.41 100.15,189.41 95.72,197.51 94.67,197.51" fill="#1b6039" opacity="0.45"/>
<polygon points="83.10,189.39 100.15,189.41 99.19,191.16 82.05,191.13" fill="#164f2f" opacity="0.55"/>
<polygon points="83.10,189.39 100.15,189.41 95.72,197.51 78.21,197.48" fill="#8fe0b5" opacity="0.15"/>
<polygon points="103.75,189.42 120.83,189.44 116.97,197.55 99.42,197.52" fill="#48b479" />
<polygon points="124.44,189.44 141.55,189.47 138.26,197.59 120.68,197.56" fill="url(#scell)" />
<polygon points="124.44,189.44 129.57,189.45 122.43,197.56 120.68,197.56" fill="#1b6039" opacity="0.75"/>
<polygon points="139.84,189.47 141.55,189.47 138.26,197.59 137.20,197.59" fill="#1b6039" opacity="0.45"/>
<polygon points="124.44,189.44 141.55,189.47 140.84,191.22 123.63,191.19" fill="#164f2f" opacity="0.55"/>
<polygon points="124.44,189.44 141.55,189.47 138.26,197.59 120.68,197.56" fill="#8fe0b5" opacity="0.15"/>
<polygon points="145.16,189.47 162.31,189.50 159.59,197.63 141.97,197.59" fill="url(#scell)" />
<polygon points="145.16,189.47 150.31,189.48 143.73,197.60 141.97,197.59" fill="#1b6039" opacity="0.75"/>
<polygon points="160.60,189.49 162.31,189.50 159.59,197.63 158.53,197.62" fill="#1b6039" opacity="0.45"/>
<polygon points="145.16,189.47 162.31,189.50 161.73,191.25 144.48,191.22" fill="#164f2f" opacity="0.55"/>
<polygon points="165.94,189.50 183.12,189.52 180.97,197.66 163.31,197.63" fill="url(#scell)" />
<polygon points="165.94,189.50 171.09,189.51 165.08,197.63 163.31,197.63" fill="#1b6039" opacity="0.75"/>
<polygon points="181.40,189.52 183.12,189.52 180.97,197.66 179.91,197.66" fill="#1b6039" opacity="0.45"/>
<polygon points="165.94,189.50 183.12,189.52 182.66,191.28 165.37,191.25" fill="#164f2f" opacity="0.55"/>
<polygon points="34.50,199.32 52.05,199.35 46.12,208.00 28.07,207.96" fill="url(#scell)" />
<polygon points="34.50,199.32 39.76,199.33 29.88,207.96 28.07,207.96" fill="#1b6039" opacity="0.75"/>
<polygon points="50.29,199.34 52.05,199.35 46.12,208.00 45.03,208.00" fill="#1b6039" opacity="0.45"/>
<polygon points="34.50,199.32 52.05,199.35 50.77,201.21 33.12,201.18" fill="#164f2f" opacity="0.55"/>
<polygon points="55.76,199.35 73.34,199.39 68.01,208.05 49.93,208.01" fill="url(#scell)" />
<polygon points="55.76,199.35 61.03,199.36 51.73,208.01 49.93,208.01" fill="#1b6039" opacity="0.75"/>
<polygon points="71.58,199.38 73.34,199.39 68.01,208.05 66.92,208.05" fill="#1b6039" opacity="0.45"/>
<polygon points="55.76,199.35 73.34,199.39 72.19,201.25 54.50,201.22" fill="#164f2f" opacity="0.55"/>
<polygon points="77.06,199.39 94.68,199.43 89.94,208.10 71.83,208.06" fill="url(#scell)" />
<polygon points="77.06,199.39 82.34,199.40 73.64,208.06 71.83,208.06" fill="#1b6039" opacity="0.75"/>
<polygon points="92.92,199.42 94.68,199.43 89.94,208.10 88.86,208.09" fill="#1b6039" opacity="0.45"/>
<polygon points="77.06,199.39 94.68,199.43 93.66,201.29 75.93,201.26" fill="#164f2f" opacity="0.55"/>
<polygon points="98.40,199.43 116.06,199.46 111.93,208.15 93.77,208.11" fill="url(#scell)" />
<polygon points="98.40,199.43 103.70,199.44 95.59,208.11 93.77,208.11" fill="#1b6039" opacity="0.75"/>
<polygon points="114.29,199.46 116.06,199.46 111.93,208.15 110.84,208.14" fill="#1b6039" opacity="0.45"/>
<polygon points="98.40,199.43 116.06,199.46 115.17,201.33 97.41,201.30" fill="#164f2f" opacity="0.55"/>
<polygon points="98.40,199.43 116.06,199.46 111.93,208.15 93.77,208.11" fill="#8fe0b5" opacity="0.15"/>
<polygon points="119.79,199.47 137.48,199.50 133.96,208.20 115.77,208.15" fill="url(#scell)" />
<polygon points="119.79,199.47 125.09,199.48 117.58,208.16 115.77,208.15" fill="#1b6039" opacity="0.75"/>
<polygon points="135.71,199.50 137.48,199.50 133.96,208.20 132.87,208.19" fill="#1b6039" opacity="0.45"/>
<polygon points="119.79,199.47 137.48,199.50 136.72,201.37 118.92,201.34" fill="#164f2f" opacity="0.55"/>
<polygon points="141.22,199.51 158.95,199.54 156.04,208.24 137.80,208.20" fill="url(#scell)" />
<polygon points="141.22,199.51 146.54,199.52 139.63,208.21 137.80,208.20" fill="#1b6039" opacity="0.75"/>
<polygon points="157.18,199.54 158.95,199.54 156.04,208.24 154.94,208.24" fill="#1b6039" opacity="0.45"/>
<polygon points="141.22,199.51 158.95,199.54 158.32,201.42 140.49,201.38" fill="#164f2f" opacity="0.55"/>
<polygon points="162.70,199.55 180.46,199.58 178.16,208.29 159.89,208.25" fill="url(#scell)" />
<polygon points="162.70,199.55 168.02,199.56 161.72,208.26 159.89,208.25" fill="#1b6039" opacity="0.75"/>
<polygon points="178.68,199.58 180.46,199.58 178.16,208.29 177.07,208.29" fill="#1b6039" opacity="0.45"/>
<polygon points="162.70,199.55 180.46,199.58 179.97,201.46 162.09,201.42" fill="#164f2f" opacity="0.55"/>
<polygon points="26.56,210.00 44.71,210.04 38.35,219.32 19.66,219.27" fill="url(#scell)" />
<polygon points="26.56,210.00 32.00,210.01 21.53,219.27 19.66,219.27" fill="#1b6039" opacity="0.75"/>
<polygon points="42.90,210.04 44.71,210.04 38.35,219.32 37.23,219.32" fill="#1b6039" opacity="0.45"/>
<polygon points="26.56,210.00 44.71,210.04 43.35,212.04 25.07,211.99" fill="#164f2f" opacity="0.55"/>
<polygon points="48.55,210.05 66.75,210.09 61.02,219.38 42.30,219.33" fill="url(#scell)" />
<polygon points="48.55,210.05 54.01,210.06 44.17,219.34 42.30,219.33" fill="#1b6039" opacity="0.75"/>
<polygon points="64.93,210.09 66.75,210.09 61.02,219.38 59.90,219.38" fill="#1b6039" opacity="0.45"/>
<polygon points="48.55,210.05 66.75,210.09 65.52,212.09 47.21,212.05" fill="#164f2f" opacity="0.55"/>
<polygon points="48.55,210.05 66.75,210.09 61.02,219.38 42.30,219.33" fill="#8fe0b5" opacity="0.15"/>
<polygon points="70.59,210.10 88.83,210.14 83.75,219.45 64.98,219.39" fill="url(#scell)" />
<polygon points="70.59,210.10 76.06,210.11 66.86,219.40 64.98,219.39" fill="#1b6039" opacity="0.75"/>
<polygon points="87.00,210.14 88.83,210.14 83.75,219.45 82.62,219.44" fill="#1b6039" opacity="0.45"/>
<polygon points="70.59,210.10 88.83,210.14 87.74,212.14 69.39,212.10" fill="#164f2f" opacity="0.55"/>
<polygon points="92.68,210.15 110.95,210.20 106.52,219.51 87.71,219.46" fill="url(#scell)" />
<polygon points="92.68,210.15 98.16,210.17 89.59,219.46 87.71,219.46" fill="#1b6039" opacity="0.75"/>
<polygon points="109.13,210.19 110.95,210.20 106.52,219.51 105.39,219.51" fill="#1b6039" opacity="0.45"/>
<polygon points="92.68,210.15 110.95,210.20 110.00,212.20 91.61,212.15" fill="#164f2f" opacity="0.55"/>
<polygon points="114.82,210.20 133.13,210.25 129.35,219.57 110.50,219.52" fill="url(#scell)" />
<polygon points="114.82,210.20 120.31,210.22 112.38,219.53 110.50,219.52" fill="#1b6039" opacity="0.75"/>
<polygon points="131.30,210.24 133.13,210.25 129.35,219.57 128.22,219.57" fill="#1b6039" opacity="0.45"/>
<polygon points="114.82,210.20 133.13,210.25 132.32,212.25 113.89,212.21" fill="#164f2f" opacity="0.55"/>
<polygon points="137.00,210.26 155.35,210.30 152.22,219.64 133.33,219.58" fill="url(#scell)" />
<polygon points="137.00,210.26 142.50,210.27 135.22,219.59 133.33,219.58" fill="#1b6039" opacity="0.75"/>
<polygon points="153.51,210.30 155.35,210.30 152.22,219.64 151.09,219.63" fill="#1b6039" opacity="0.45"/>
<polygon points="137.00,210.26 155.35,210.30 154.68,212.31 136.21,212.26" fill="#164f2f" opacity="0.55"/>
<polygon points="137.00,210.26 155.35,210.30 152.22,219.64 133.33,219.58" fill="#8fe0b5" opacity="0.15"/>
<polygon points="159.23,210.31 177.62,210.35 175.15,219.70 156.22,219.65" fill="url(#scell)" />
<polygon points="159.23,210.31 164.74,210.32 158.11,219.65 156.22,219.65" fill="#1b6039" opacity="0.75"/>
<polygon points="175.78,210.35 177.62,210.35 175.15,219.70 174.01,219.70" fill="#1b6039" opacity="0.45"/>
<polygon points="159.23,210.31 177.62,210.35 177.09,212.36 158.58,212.32" fill="#164f2f" opacity="0.55"/>
<polygon points="18.03,221.46 36.84,221.51 30.00,231.49 10.62,231.42" fill="url(#scell)" />
<polygon points="18.03,221.46 23.67,221.47 12.56,231.43 10.62,231.42" fill="#1b6039" opacity="0.75"/>
<polygon points="34.96,221.51 36.84,221.51 30.00,231.49 28.83,231.49" fill="#1b6039" opacity="0.45"/>
<polygon points="18.03,221.46 36.84,221.51 35.37,223.66 16.44,223.60" fill="#164f2f" opacity="0.55"/>
<polygon points="40.82,221.52 59.67,221.58 53.52,231.57 34.09,231.50" fill="url(#scell)" />
<polygon points="40.82,221.52 46.47,221.54 36.03,231.51 34.09,231.50" fill="#1b6039" opacity="0.75"/>
<polygon points="57.78,221.57 59.67,221.58 53.52,231.57 52.35,231.57" fill="#1b6039" opacity="0.45"/>
<polygon points="40.82,221.52 59.67,221.58 58.35,223.73 39.37,223.67" fill="#164f2f" opacity="0.55"/>
<polygon points="63.65,221.59 82.55,221.64 77.09,231.65 57.62,231.58" fill="url(#scell)" />
<polygon points="63.65,221.59 69.32,221.61 59.57,231.59 57.62,231.58" fill="#1b6039" opacity="0.75"/>
<polygon points="80.66,221.64 82.55,221.64 77.09,231.65 75.92,231.64" fill="#1b6039" opacity="0.45"/>
<polygon points="63.65,221.59 82.55,221.64 81.38,223.79 62.36,223.74" fill="#164f2f" opacity="0.55"/>
<polygon points="86.54,221.66 105.48,221.71 100.71,231.73 81.20,231.66" fill="url(#scell)" />
<polygon points="86.54,221.66 92.22,221.67 83.15,231.67 81.20,231.66" fill="#1b6039" opacity="0.75"/>
<polygon points="103.58,221.71 105.48,221.71 100.71,231.73 99.54,231.72" fill="#1b6039" opacity="0.45"/>
<polygon points="86.54,221.66 105.48,221.71 104.45,223.86 85.39,223.81" fill="#164f2f" opacity="0.55"/>
<polygon points="86.54,221.66 105.48,221.71 100.71,231.73 81.20,231.66" fill="#8fe0b5" opacity="0.15"/>
<polygon points="109.48,221.72 128.46,221.78 124.39,231.81 104.83,231.74" fill="url(#scell)" />
<polygon points="109.48,221.72 115.17,221.74 106.79,231.75 104.83,231.74" fill="#1b6039" opacity="0.75"/>
<polygon points="126.56,221.77 128.46,221.78 124.39,231.81 123.22,231.80" fill="#1b6039" opacity="0.45"/>
<polygon points="109.48,221.72 128.46,221.78 127.58,223.93 108.48,223.88" fill="#164f2f" opacity="0.55"/>
<polygon points="132.47,221.79 151.49,221.84 148.12,231.89 128.52,231.82" fill="url(#scell)" />
<polygon points="132.47,221.79 138.17,221.81 130.48,231.83 128.52,231.82" fill="#1b6039" opacity="0.75"/>
<polygon points="149.58,221.84 151.49,221.84 148.12,231.89 146.95,231.88" fill="#1b6039" opacity="0.45"/>
<polygon points="132.47,221.79 151.49,221.84 150.76,224.00 131.62,223.95" fill="#164f2f" opacity="0.55"/>
<polygon points="155.50,221.86 174.57,221.91 171.91,231.97 152.27,231.90" fill="url(#scell)" />
<polygon points="155.50,221.86 161.22,221.87 154.23,231.91 152.27,231.90" fill="#1b6039" opacity="0.75"/>
<polygon points="172.66,221.91 174.57,221.91 171.91,231.97 170.73,231.97" fill="#1b6039" opacity="0.45"/>
<polygon points="155.50,221.86 174.57,221.91 174.00,224.07 154.81,224.01" fill="#164f2f" opacity="0.55"/>
<line x1="8" y1="255" x2="5" y2="271" stroke="#555" stroke-width="0.75" stroke-dasharray="3,2"/>
<line x1="178.2" y1="255.4" x2="186" y2="271" stroke="#555" stroke-width="0.75" stroke-dasharray="3,2"/>
<polygon points="5.10,296.20 5.10,271.20 10.10,271.20 10.10,285.40 30.90,285.40 30.90,271.20 35.80,271.20 35.80,292.40 55.50,292.40 55.50,271.20 60.70,271.20 60.70,281.70 80.90,281.70 80.90,271.20 85.80,271.20 85.80,277.60 106.30,277.60 106.30,271.20 111.00,271.20 111.00,282.00 131.30,282.00 131.30,271.20 136.00,271.20 136.00,292.20 156.60,292.20 156.60,271.20 161.50,271.20 161.50,285.70 181.30,285.70 181.30,271.20 186.00,271.20 186.00,296.20" fill="#45a86e"/>
<line x1="161.06" y1="290.4" x2="182.94" y2="290.4" stroke="#3a464c" stroke-width="1.3"/>
<polygon points="158.5,290.4 163.62,287.2 162.02,290.4 163.62,293.59999999999997" fill="#3a464c"/>
<polygon points="185.5,290.4 180.38,287.2 181.98,290.4 180.38,293.59999999999997" fill="#3a464c"/>
<text x="166.6" y="283.8" font-style="italic" font-size="12.5" fill="#2a2a2a">D</text>
<rect x="249" y="22.2" width="138" height="136.4" fill="url(#bplate)"/>
<rect x="255.45" y="28.05" width="7.7" height="7.7" fill="#4f4eb9"/>
<rect x="255.45" y="28.05" width="7.7" height="1.2" fill="#36359a" opacity="0.76"/>
<rect x="255.45" y="34.85" width="7.7" height="0.9" fill="#6a6cd0" opacity="0.6"/>
<rect x="275.83" y="28.80" width="6.2" height="6.2" fill="#4f4eb9"/>
<rect x="275.83" y="28.80" width="6.2" height="1.2" fill="#36359a" opacity="0.53"/>
<rect x="275.83" y="34.10" width="6.2" height="0.9" fill="#6a6cd0" opacity="0.6"/>
<rect x="294.71" y="28.05" width="7.7" height="7.7" fill="#4f4eb9"/>
<rect x="294.71" y="28.05" width="7.7" height="1.2" fill="#36359a" opacity="0.76"/>
<rect x="294.71" y="34.85" width="7.7" height="0.9" fill="#6a6cd0" opacity="0.6"/>
<rect x="314.09" y="27.80" width="8.2" height="8.2" fill="#4f4eb9"/>
<rect x="314.09" y="27.80" width="8.2" height="1.2" fill="#36359a" opacity="0.83"/>
<rect x="314.09" y="35.10" width="8.2" height="0.9" fill="#6a6cd0" opacity="0.6"/>
<rect x="333.97" y="28.05" width="7.7" height="7.7" fill="#4f4eb9"/>
<rect x="333.97" y="28.05" width="7.7" height="1.2" fill="#36359a" opacity="0.76"/>
<rect x="333.97" y="34.85" width="7.7" height="0.9" fill="#6a6cd0" opacity="0.6"/>
<rect x="354.35" y="28.80" width="6.2" height="6.2" fill="#4f4eb9"/>
<rect x="354.35" y="28.80" width="6.2" height="1.2" fill="#36359a" opacity="0.53"/>
<rect x="354.35" y="34.10" width="6.2" height="0.9" fill="#6a6cd0" opacity="0.6"/>
<rect x="373.23" y="28.05" width="7.7" height="7.7" fill="#4f4eb9"/>
<rect x="373.23" y="28.05" width="7.7" height="1.2" fill="#36359a" opacity="0.76"/>
<rect x="373.23" y="34.85" width="7.7" height="0.9" fill="#6a6cd0" opacity="0.6"/>
<rect x="256.20" y="48.30" width="6.2" height="6.2" fill="#4f4eb9"/>
<rect x="256.20" y="48.30" width="6.2" height="1.2" fill="#36359a" opacity="0.53"/>
<rect x="256.20" y="53.60" width="6.2" height="0.9" fill="#6a6cd0" opacity="0.6"/>
<rect x="274.28" y="46.75" width="9.3" height="9.3" fill="#4f4eb9"/>
<rect x="274.28" y="46.75" width="9.3" height="1.2" fill="#36359a" opacity="1.00"/>
<rect x="274.28" y="55.15" width="9.3" height="0.9" fill="#6a6cd0" opacity="0.6"/>
<rect x="294.96" y="47.80" width="7.2" height="7.2" fill="#4f4eb9"/>
<rect x="294.96" y="47.80" width="7.2" height="1.2" fill="#36359a" opacity="0.68"/>
<rect x="294.96" y="54.10" width="7.2" height="0.9" fill="#6a6cd0" opacity="0.6"/>
<rect x="314.34" y="47.55" width="7.7" height="7.7" fill="#4f4eb9"/>
<rect x="314.34" y="47.55" width="7.7" height="1.2" fill="#36359a" opacity="0.76"/>
<rect x="314.34" y="54.35" width="7.7" height="0.9" fill="#6a6cd0" opacity="0.6"/>
<rect x="334.22" y="47.80" width="7.2" height="7.2" fill="#4f4eb9"/>
<rect x="334.22" y="47.80" width="7.2" height="1.2" fill="#36359a" opacity="0.68"/>
<rect x="334.22" y="54.10" width="7.2" height="0.9" fill="#6a6cd0" opacity="0.6"/>
<rect x="352.80" y="46.75" width="9.3" height="9.3" fill="#4f4eb9"/>
<rect x="352.80" y="46.75" width="9.3" height="1.2" fill="#36359a" opacity="1.00"/>
<rect x="352.80" y="55.15" width="9.3" height="0.9" fill="#6a6cd0" opacity="0.6"/>
<rect x="373.98" y="48.30" width="6.2" height="6.2" fill="#4f4eb9"/>
<rect x="373.98" y="48.30" width="6.2" height="1.2" fill="#36359a" opacity="0.53"/>
<rect x="373.98" y="53.60" width="6.2" height="0.9" fill="#6a6cd0" opacity="0.6"/>
<rect x="255.70" y="67.30" width="7.2" height="7.2" fill="#4f4eb9"/>
<rect x="255.70" y="67.30" width="7.2" height="1.2" fill="#36359a" opacity="0.68"/>
<rect x="255.70" y="73.60" width="7.2" height="0.9" fill="#6a6cd0" opacity="0.6"/>
<rect x="275.33" y="67.30" width="7.2" height="7.2" fill="#4f4eb9"/>
<rect x="275.33" y="67.30" width="7.2" height="1.2" fill="#36359a" opacity="0.68"/>
<rect x="275.33" y="73.60" width="7.2" height="0.9" fill="#6a6cd0" opacity="0.6"/>
<rect x="294.71" y="67.05" width="7.7" height="7.7" fill="#4f4eb9"/>
<rect x="294.71" y="67.05" width="7.7" height="1.2" fill="#36359a" opacity="0.76"/>
<rect x="294.71" y="73.85" width="7.7" height="0.9" fill="#6a6cd0" opacity="0.6"/>
<rect x="313.54" y="66.25" width="9.3" height="9.3" fill="#4f4eb9"/>
<rect x="313.54" y="66.25" width="9.3" height="1.2" fill="#36359a" opacity="1.00"/>
<rect x="313.54" y="74.65" width="9.3" height="0.9" fill="#6a6cd0" opacity="0.6"/>
<rect x="333.97" y="67.05" width="7.7" height="7.7" fill="#4f4eb9"/>
<rect x="333.97" y="67.05" width="7.7" height="1.2" fill="#36359a" opacity="0.76"/>
<rect x="333.97" y="73.85" width="7.7" height="0.9" fill="#6a6cd0" opacity="0.6"/>
<rect x="353.85" y="67.30" width="7.2" height="7.2" fill="#4f4eb9"/>
<rect x="353.85" y="67.30" width="7.2" height="1.2" fill="#36359a" opacity="0.68"/>
<rect x="353.85" y="73.60" width="7.2" height="0.9" fill="#6a6cd0" opacity="0.6"/>
<rect x="373.23" y="67.05" width="7.7" height="7.7" fill="#4f4eb9"/>
<rect x="373.23" y="67.05" width="7.7" height="1.2" fill="#36359a" opacity="0.76"/>
<rect x="373.23" y="73.85" width="7.7" height="0.9" fill="#6a6cd0" opacity="0.6"/>
<rect x="255.70" y="86.80" width="7.2" height="7.2" fill="#4f4eb9"/>
<rect x="255.70" y="86.80" width="7.2" height="1.2" fill="#36359a" opacity="0.68"/>
<rect x="255.70" y="93.10" width="7.2" height="0.9" fill="#6a6cd0" opacity="0.6"/>
<rect x="275.33" y="86.80" width="7.2" height="7.2" fill="#4f4eb9"/>
<rect x="275.33" y="86.80" width="7.2" height="1.2" fill="#36359a" opacity="0.68"/>
<rect x="275.33" y="93.10" width="7.2" height="0.9" fill="#6a6cd0" opacity="0.6"/>
<rect x="293.91" y="85.75" width="9.3" height="9.3" fill="#4f4eb9"/>
<rect x="293.91" y="85.75" width="9.3" height="1.2" fill="#36359a" opacity="1.00"/>
<rect x="293.91" y="94.15" width="9.3" height="0.9" fill="#6a6cd0" opacity="0.6"/>
<rect x="333.17" y="85.75" width="9.3" height="9.3" fill="#4f4eb9"/>
<rect x="333.17" y="85.75" width="9.3" height="1.2" fill="#36359a" opacity="1.00"/>
<rect x="333.17" y="94.15" width="9.3" height="0.9" fill="#6a6cd0" opacity="0.6"/>
<rect x="353.85" y="86.80" width="7.2" height="7.2" fill="#4f4eb9"/>
<rect x="353.85" y="86.80" width="7.2" height="1.2" fill="#36359a" opacity="0.68"/>
<rect x="353.85" y="93.10" width="7.2" height="0.9" fill="#6a6cd0" opacity="0.6"/>
<rect x="373.23" y="86.55" width="7.7" height="7.7" fill="#4f4eb9"/>
<rect x="373.23" y="86.55" width="7.7" height="1.2" fill="#36359a" opacity="0.76"/>
<rect x="373.23" y="93.35" width="7.7" height="0.9" fill="#6a6cd0" opacity="0.6"/>
<rect x="255.70" y="106.30" width="7.2" height="7.2" fill="#4f4eb9"/>
<rect x="255.70" y="106.30" width="7.2" height="1.2" fill="#36359a" opacity="0.68"/>
<rect x="255.70" y="112.60" width="7.2" height="0.9" fill="#6a6cd0" opacity="0.6"/>
<rect x="275.33" y="106.30" width="7.2" height="7.2" fill="#4f4eb9"/>
<rect x="275.33" y="106.30" width="7.2" height="1.2" fill="#36359a" opacity="0.68"/>
<rect x="275.33" y="112.60" width="7.2" height="0.9" fill="#6a6cd0" opacity="0.6"/>
<rect x="294.71" y="106.05" width="7.7" height="7.7" fill="#4f4eb9"/>
<rect x="294.71" y="106.05" width="7.7" height="1.2" fill="#36359a" opacity="0.76"/>
<rect x="294.71" y="112.85" width="7.7" height="0.9" fill="#6a6cd0" opacity="0.6"/>
<rect x="313.54" y="105.25" width="9.3" height="9.3" fill="#4f4eb9"/>
<rect x="313.54" y="105.25" width="9.3" height="1.2" fill="#36359a" opacity="1.00"/>
<rect x="313.54" y="113.65" width="9.3" height="0.9" fill="#6a6cd0" opacity="0.6"/>
<rect x="333.97" y="106.05" width="7.7" height="7.7" fill="#4f4eb9"/>
<rect x="333.97" y="106.05" width="7.7" height="1.2" fill="#36359a" opacity="0.76"/>
<rect x="333.97" y="112.85" width="7.7" height="0.9" fill="#6a6cd0" opacity="0.6"/>
<rect x="353.85" y="106.30" width="7.2" height="7.2" fill="#4f4eb9"/>
<rect x="353.85" y="106.30" width="7.2" height="1.2" fill="#36359a" opacity="0.68"/>
<rect x="353.85" y="112.60" width="7.2" height="0.9" fill="#6a6cd0" opacity="0.6"/>
<rect x="373.23" y="106.05" width="7.7" height="7.7" fill="#4f4eb9"/>
<rect x="373.23" y="106.05" width="7.7" height="1.2" fill="#36359a" opacity="0.76"/>
<rect x="373.23" y="112.85" width="7.7" height="0.9" fill="#6a6cd0" opacity="0.6"/>
<rect x="256.20" y="126.30" width="6.2" height="6.2" fill="#4f4eb9"/>
<rect x="256.20" y="126.30" width="6.2" height="1.2" fill="#36359a" opacity="0.53"/>
<rect x="256.20" y="131.60" width="6.2" height="0.9" fill="#6a6cd0" opacity="0.6"/>
<rect x="274.28" y="124.75" width="9.3" height="9.3" fill="#4f4eb9"/>
<rect x="274.28" y="124.75" width="9.3" height="1.2" fill="#36359a" opacity="1.00"/>
<rect x="274.28" y="133.15" width="9.3" height="0.9" fill="#6a6cd0" opacity="0.6"/>
<rect x="294.96" y="125.80" width="7.2" height="7.2" fill="#4f4eb9"/>
<rect x="294.96" y="125.80" width="7.2" height="1.2" fill="#36359a" opacity="0.68"/>
<rect x="294.96" y="132.10" width="7.2" height="0.9" fill="#6a6cd0" opacity="0.6"/>
<rect x="314.34" y="125.55" width="7.7" height="7.7" fill="#4f4eb9"/>
<rect x="314.34" y="125.55" width="7.7" height="1.2" fill="#36359a" opacity="0.76"/>
<rect x="314.34" y="132.35" width="7.7" height="0.9" fill="#6a6cd0" opacity="0.6"/>
<rect x="334.22" y="125.80" width="7.2" height="7.2" fill="#4f4eb9"/>
<rect x="334.22" y="125.80" width="7.2" height="1.2" fill="#36359a" opacity="0.68"/>
<rect x="334.22" y="132.10" width="7.2" height="0.9" fill="#6a6cd0" opacity="0.6"/>
<rect x="352.80" y="124.75" width="9.3" height="9.3" fill="#4f4eb9"/>
<rect x="352.80" y="124.75" width="9.3" height="1.2" fill="#36359a" opacity="1.00"/>
<rect x="352.80" y="133.15" width="9.3" height="0.9" fill="#6a6cd0" opacity="0.6"/>
<rect x="373.98" y="126.30" width="6.2" height="6.2" fill="#4f4eb9"/>
<rect x="373.98" y="126.30" width="6.2" height="1.2" fill="#36359a" opacity="0.53"/>
<rect x="373.98" y="131.60" width="6.2" height="0.9" fill="#6a6cd0" opacity="0.6"/>
<rect x="255.70" y="145.30" width="7.2" height="7.2" fill="#4f4eb9"/>
<rect x="255.70" y="145.30" width="7.2" height="1.2" fill="#36359a" opacity="0.68"/>
<rect x="255.70" y="151.60" width="7.2" height="0.9" fill="#6a6cd0" opacity="0.6"/>
<rect x="275.83" y="145.80" width="6.2" height="6.2" fill="#4f4eb9"/>
<rect x="275.83" y="145.80" width="6.2" height="1.2" fill="#36359a" opacity="0.53"/>
<rect x="275.83" y="151.10" width="6.2" height="0.9" fill="#6a6cd0" opacity="0.6"/>
<rect x="294.71" y="145.05" width="7.7" height="7.7" fill="#4f4eb9"/>
<rect x="294.71" y="145.05" width="7.7" height="1.2" fill="#36359a" opacity="0.76"/>
<rect x="294.71" y="151.85" width="7.7" height="0.9" fill="#6a6cd0" opacity="0.6"/>
<rect x="314.09" y="144.80" width="8.2" height="8.2" fill="#4f4eb9"/>
<rect x="314.09" y="144.80" width="8.2" height="1.2" fill="#36359a" opacity="0.83"/>
<rect x="314.09" y="152.10" width="8.2" height="0.9" fill="#6a6cd0" opacity="0.6"/>
<rect x="333.97" y="145.05" width="7.7" height="7.7" fill="#4f4eb9"/>
<rect x="333.97" y="145.05" width="7.7" height="1.2" fill="#36359a" opacity="0.76"/>
<rect x="333.97" y="151.85" width="7.7" height="0.9" fill="#6a6cd0" opacity="0.6"/>
<rect x="354.35" y="145.80" width="6.2" height="6.2" fill="#4f4eb9"/>
<rect x="354.35" y="145.80" width="6.2" height="1.2" fill="#36359a" opacity="0.53"/>
<rect x="354.35" y="151.10" width="6.2" height="0.9" fill="#6a6cd0" opacity="0.6"/>
<rect x="373.23" y="145.05" width="7.7" height="7.7" fill="#4f4eb9"/>
<rect x="373.23" y="145.05" width="7.7" height="1.2" fill="#36359a" opacity="0.76"/>
<rect x="373.23" y="151.85" width="7.7" height="0.9" fill="#6a6cd0" opacity="0.6"/>
<polygon points="248.6,162.4 386.4,162.4 386.4,235.6 230.5,235.6 230.5,234.4" fill="#4b4daa"/>
<polygon points="248.6,162.4 386.4,162.4 386.4,233.6 230.5,234.4" fill="url(#bslab)"/>
<polygon points="254.27,165.89 262.07,165.89 261.41,168.81 253.56,168.82" fill="#5250b6"/>
<polyline points="253.56,168.82 254.27,165.89" fill="none" stroke="#3e3ca0" stroke-width="0.7"/>
<line x1="254.27" y1="166.39" x2="262.07" y2="166.39" stroke="#34328f" stroke-width="1.2"/>
<polygon points="274.84,166.17 281.11,166.17 280.66,168.52 274.37,168.52" fill="#5250b6"/>
<polyline points="274.37,168.52 274.84,166.17" fill="none" stroke="#3e3ca0" stroke-width="0.7"/>
<line x1="274.84" y1="166.67" x2="281.11" y2="166.67" stroke="#34328f" stroke-width="1.2"/>
<polygon points="293.96,165.88 301.72,165.88 301.27,168.79 293.47,168.80" fill="#5250b6"/>
<polyline points="293.47,168.80 293.96,165.88" fill="none" stroke="#3e3ca0" stroke-width="0.7"/>
<line x1="293.96" y1="166.38" x2="301.72" y2="166.38" stroke="#34328f" stroke-width="1.2"/>
<polygon points="313.49,165.78 321.73,165.78 321.36,168.88 313.08,168.88" fill="#5250b6"/>
<polyline points="313.08,168.88 313.49,165.78" fill="none" stroke="#3e3ca0" stroke-width="0.7"/>
<line x1="313.49" y1="166.28" x2="321.73" y2="166.28" stroke="#34328f" stroke-width="1.2"/>
<polygon points="333.44,165.87 341.15,165.87 340.91,168.78 333.16,168.78" fill="#5250b6"/>
<polyline points="333.16,168.78 333.44,165.87" fill="none" stroke="#3e3ca0" stroke-width="0.7"/>
<line x1="333.44" y1="166.37" x2="341.15" y2="166.37" stroke="#34328f" stroke-width="1.2"/>
<polygon points="353.82,166.15 360.02,166.15 359.91,168.48 353.68,168.49" fill="#5250b6"/>
<polyline points="353.68,168.49 353.82,166.15" fill="none" stroke="#3e3ca0" stroke-width="0.7"/>
<line x1="353.82" y1="166.65" x2="360.02" y2="166.65" stroke="#34328f" stroke-width="1.2"/>
<polygon points="372.69,165.86 380.36,165.86 380.33,168.76 372.61,168.76" fill="#5250b6"/>
<polyline points="372.61,168.76 372.69,165.86" fill="none" stroke="#3e3ca0" stroke-width="0.7"/>
<line x1="372.69" y1="166.36" x2="380.36" y2="166.36" stroke="#34328f" stroke-width="1.2"/>
<polygon points="252.73,175.55 259.12,175.54 258.57,177.98 252.15,177.99" fill="#5250b6"/>
<polyline points="252.15,177.99 252.73,175.55" fill="none" stroke="#3e3ca0" stroke-width="0.7"/>
<line x1="252.73" y1="176.05" x2="259.12" y2="176.04" stroke="#34328f" stroke-width="1.2"/>
<polygon points="271.48,174.93 281.03,174.92 280.35,178.57 270.73,178.58" fill="#5250b6"/>
<polyline points="270.73,178.58 271.48,174.93" fill="none" stroke="#3e3ca0" stroke-width="0.7"/>
<line x1="271.48" y1="175.43" x2="281.03" y2="175.42" stroke="#34328f" stroke-width="1.2"/>
<polygon points="292.64,175.32 300.02,175.31 299.58,178.13 292.17,178.14" fill="#5250b6"/>
<polyline points="292.17,178.14 292.64,175.32" fill="none" stroke="#3e3ca0" stroke-width="0.7"/>
<line x1="292.64" y1="175.82" x2="300.02" y2="175.81" stroke="#34328f" stroke-width="1.2"/>
<polygon points="312.50,175.20 320.37,175.19 320.01,178.21 312.10,178.21" fill="#5250b6"/>
<polyline points="312.10,178.21 312.50,175.20" fill="none" stroke="#3e3ca0" stroke-width="0.7"/>
<line x1="312.50" y1="175.70" x2="320.37" y2="175.69" stroke="#34328f" stroke-width="1.2"/>
<polygon points="332.79,175.28 340.12,175.27 339.89,178.08 332.52,178.09" fill="#5250b6"/>
<polyline points="332.52,178.09 332.79,175.28" fill="none" stroke="#3e3ca0" stroke-width="0.7"/>
<line x1="332.79" y1="175.78" x2="340.12" y2="175.77" stroke="#34328f" stroke-width="1.2"/>
<polygon points="351.73,174.86 361.18,174.85 361.01,178.47 351.51,178.48" fill="#5250b6"/>
<polyline points="351.51,178.48 351.73,174.86" fill="none" stroke="#3e3ca0" stroke-width="0.7"/>
<line x1="351.73" y1="175.36" x2="361.18" y2="175.35" stroke="#34328f" stroke-width="1.2"/>
<polygon points="373.21,175.44 379.49,175.43 379.46,177.84 373.15,177.85" fill="#5250b6"/>
<polyline points="373.15,177.85 373.21,175.44" fill="none" stroke="#3e3ca0" stroke-width="0.7"/>
<line x1="373.21" y1="175.94" x2="379.49" y2="175.93" stroke="#34328f" stroke-width="1.2"/>
<polygon points="249.94,185.05 257.49,185.04 256.83,187.96 249.24,187.98" fill="#5250b6"/>
<polyline points="249.24,187.98 249.94,185.05" fill="none" stroke="#3e3ca0" stroke-width="0.7"/>
<line x1="249.94" y1="185.55" x2="257.49" y2="185.54" stroke="#34328f" stroke-width="1.2"/>
<polygon points="270.51,185.02 278.04,185.00 277.49,187.92 269.92,187.94" fill="#5250b6"/>
<polyline points="269.92,187.94 270.51,185.02" fill="none" stroke="#3e3ca0" stroke-width="0.7"/>
<line x1="270.51" y1="185.52" x2="278.04" y2="185.50" stroke="#34328f" stroke-width="1.2"/>
<polygon points="290.78,184.88 298.81,184.87 298.33,187.99 290.26,188.00" fill="#5250b6"/>
<polyline points="290.26,188.00 290.78,184.88" fill="none" stroke="#3e3ca0" stroke-width="0.7"/>
<line x1="290.78" y1="185.38" x2="298.81" y2="185.37" stroke="#34328f" stroke-width="1.2"/>
<polygon points="310.44,184.53 320.10,184.51 319.66,188.27 309.94,188.29" fill="#5250b6"/>
<polyline points="309.94,188.29 310.44,184.53" fill="none" stroke="#3e3ca0" stroke-width="0.7"/>
<line x1="310.44" y1="185.03" x2="320.10" y2="185.01" stroke="#34328f" stroke-width="1.2"/>
<polygon points="331.62,184.82 339.60,184.80 339.34,187.91 331.32,187.93" fill="#5250b6"/>
<polyline points="331.32,187.93 331.62,184.82" fill="none" stroke="#3e3ca0" stroke-width="0.7"/>
<line x1="331.62" y1="185.32" x2="339.60" y2="185.30" stroke="#34328f" stroke-width="1.2"/>
<polygon points="352.20,184.88 359.64,184.87 359.50,187.77 352.02,187.79" fill="#5250b6"/>
<polyline points="352.02,187.79 352.20,184.88" fill="none" stroke="#3e3ca0" stroke-width="0.7"/>
<line x1="352.20" y1="185.38" x2="359.64" y2="185.37" stroke="#34328f" stroke-width="1.2"/>
<polygon points="372.22,184.75 380.15,184.74 380.12,187.84 372.14,187.85" fill="#5250b6"/>
<polyline points="372.14,187.85 372.22,184.75" fill="none" stroke="#3e3ca0" stroke-width="0.7"/>
<line x1="372.22" y1="185.25" x2="380.15" y2="185.24" stroke="#34328f" stroke-width="1.2"/>
<polygon points="247.54,195.08 255.23,195.06 254.54,198.09 246.82,198.11" fill="#5250b6"/>
<polyline points="246.82,198.11 247.54,195.08" fill="none" stroke="#3e3ca0" stroke-width="0.7"/>
<line x1="247.54" y1="195.58" x2="255.23" y2="195.56" stroke="#34328f" stroke-width="1.2"/>
<polygon points="268.48,195.03 276.14,195.02 275.57,198.04 267.86,198.06" fill="#5250b6"/>
<polyline points="267.86,198.06 268.48,195.03" fill="none" stroke="#3e3ca0" stroke-width="0.7"/>
<line x1="268.48" y1="195.53" x2="276.14" y2="195.52" stroke="#34328f" stroke-width="1.2"/>
<polygon points="288.31,194.55 298.17,194.53 297.58,198.43 287.65,198.45" fill="#5250b6"/>
<polyline points="287.65,198.45 288.31,194.55" fill="none" stroke="#3e3ca0" stroke-width="0.7"/>
<line x1="288.31" y1="195.05" x2="298.17" y2="195.03" stroke="#34328f" stroke-width="1.2"/>
<polygon points="329.85,194.45 339.65,194.43 339.34,198.32 329.47,198.35" fill="#5250b6"/>
<polyline points="329.47,198.35 329.85,194.45" fill="none" stroke="#3e3ca0" stroke-width="0.7"/>
<line x1="329.85" y1="194.95" x2="339.65" y2="194.93" stroke="#34328f" stroke-width="1.2"/>
<polygon points="351.60,194.84 359.17,194.82 359.03,197.83 351.42,197.85" fill="#5250b6"/>
<polyline points="351.42,197.85 351.60,194.84" fill="none" stroke="#3e3ca0" stroke-width="0.7"/>
<line x1="351.60" y1="195.34" x2="359.17" y2="195.32" stroke="#34328f" stroke-width="1.2"/>
<polygon points="371.97,194.69 380.04,194.67 380.01,197.88 371.89,197.90" fill="#5250b6"/>
<polyline points="371.89,197.90 371.97,194.69" fill="none" stroke="#3e3ca0" stroke-width="0.7"/>
<line x1="371.97" y1="195.19" x2="380.04" y2="195.17" stroke="#34328f" stroke-width="1.2"/>
<polygon points="245.06,205.48 252.88,205.45 252.17,208.59 244.30,208.62" fill="#5250b6"/>
<polyline points="244.30,208.62 245.06,205.48" fill="none" stroke="#3e3ca0" stroke-width="0.7"/>
<line x1="245.06" y1="205.98" x2="252.88" y2="205.95" stroke="#34328f" stroke-width="1.2"/>
<polygon points="266.37,205.41 274.17,205.39 273.58,208.52 265.73,208.55" fill="#5250b6"/>
<polyline points="265.73,208.55 266.37,205.41" fill="none" stroke="#3e3ca0" stroke-width="0.7"/>
<line x1="266.37" y1="205.91" x2="274.17" y2="205.89" stroke="#34328f" stroke-width="1.2"/>
<polygon points="287.37,205.24 295.68,205.21 295.17,208.56 286.81,208.59" fill="#5250b6"/>
<polyline points="286.81,208.59 287.37,205.24" fill="none" stroke="#3e3ca0" stroke-width="0.7"/>
<line x1="287.37" y1="205.74" x2="295.68" y2="205.71" stroke="#34328f" stroke-width="1.2"/>
<polygon points="307.73,204.83 317.74,204.80 317.27,208.84 307.20,208.87" fill="#5250b6"/>
<polyline points="307.20,208.87 307.73,204.83" fill="none" stroke="#3e3ca0" stroke-width="0.7"/>
<line x1="307.73" y1="205.33" x2="317.74" y2="205.30" stroke="#34328f" stroke-width="1.2"/>
<polygon points="329.67,205.11 337.93,205.08 337.66,208.42 329.35,208.45" fill="#5250b6"/>
<polyline points="329.35,208.45 329.67,205.11" fill="none" stroke="#3e3ca0" stroke-width="0.7"/>
<line x1="329.67" y1="205.61" x2="337.93" y2="205.58" stroke="#34328f" stroke-width="1.2"/>
<polygon points="350.98,205.15 358.69,205.13 358.55,208.24 350.80,208.27" fill="#5250b6"/>
<polyline points="350.80,208.27 350.98,205.15" fill="none" stroke="#3e3ca0" stroke-width="0.7"/>
<line x1="350.98" y1="205.65" x2="358.69" y2="205.63" stroke="#34328f" stroke-width="1.2"/>
<polygon points="371.71,204.98 379.93,204.95 379.89,208.28 371.63,208.31" fill="#5250b6"/>
<polyline points="371.63,208.31 371.71,204.98" fill="none" stroke="#3e3ca0" stroke-width="0.7"/>
<line x1="371.71" y1="205.48" x2="379.93" y2="205.45" stroke="#34328f" stroke-width="1.2"/>
<polygon points="242.98,216.47 249.85,216.44 249.21,219.25 242.31,219.28" fill="#5250b6"/>
<polyline points="242.31,219.28 242.98,216.47" fill="none" stroke="#3e3ca0" stroke-width="0.7"/>
<line x1="242.98" y1="216.97" x2="249.85" y2="216.94" stroke="#34328f" stroke-width="1.2"/>
<polygon points="263.12,215.70 273.38,215.66 272.59,219.86 262.26,219.90" fill="#5250b6"/>
<polyline points="262.26,219.90 263.12,215.70" fill="none" stroke="#3e3ca0" stroke-width="0.7"/>
<line x1="263.12" y1="216.20" x2="273.38" y2="216.16" stroke="#34328f" stroke-width="1.2"/>
<polygon points="285.83,216.08 293.75,216.05 293.25,219.30 285.28,219.33" fill="#5250b6"/>
<polyline points="285.28,219.33 285.83,216.08" fill="none" stroke="#3e3ca0" stroke-width="0.7"/>
<line x1="285.83" y1="216.58" x2="293.75" y2="216.55" stroke="#34328f" stroke-width="1.2"/>
<polygon points="307.14,215.89 315.58,215.86 315.17,219.32 306.68,219.35" fill="#5250b6"/>
<polyline points="306.68,219.35 307.14,215.89" fill="none" stroke="#3e3ca0" stroke-width="0.7"/>
<line x1="307.14" y1="216.39" x2="315.58" y2="216.36" stroke="#34328f" stroke-width="1.2"/>
<polygon points="328.90,215.92 336.78,215.89 336.51,219.12 328.59,219.15" fill="#5250b6"/>
<polyline points="328.59,219.15 328.90,215.92" fill="none" stroke="#3e3ca0" stroke-width="0.7"/>
<line x1="328.90" y1="216.42" x2="336.78" y2="216.39" stroke="#34328f" stroke-width="1.2"/>
<polygon points="349.23,215.37 359.36,215.33 359.17,219.50 348.97,219.54" fill="#5250b6"/>
<polyline points="348.97,219.54 349.23,215.37" fill="none" stroke="#3e3ca0" stroke-width="0.7"/>
<line x1="349.23" y1="215.87" x2="359.36" y2="215.83" stroke="#34328f" stroke-width="1.2"/>
<polygon points="372.26,215.97 378.99,215.95 378.96,218.72 372.19,218.75" fill="#5250b6"/>
<polyline points="372.19,218.75 372.26,215.97" fill="none" stroke="#3e3ca0" stroke-width="0.7"/>
<line x1="372.26" y1="216.47" x2="378.99" y2="216.45" stroke="#34328f" stroke-width="1.2"/>
<polygon points="239.81,227.42 247.93,227.38 247.17,230.76 239.00,230.80" fill="#5250b6"/>
<polyline points="239.00,230.80 239.81,227.42" fill="none" stroke="#3e3ca0" stroke-width="0.7"/>
<line x1="239.81" y1="227.92" x2="247.93" y2="227.88" stroke="#34328f" stroke-width="1.2"/>
<polygon points="262.44,227.55 269.41,227.52 268.86,230.42 261.85,230.45" fill="#5250b6"/>
<polyline points="261.85,230.45 262.44,227.55" fill="none" stroke="#3e3ca0" stroke-width="0.7"/>
<line x1="262.44" y1="228.05" x2="269.41" y2="228.02" stroke="#34328f" stroke-width="1.2"/>
<polygon points="283.70,227.10 292.33,227.06 291.78,230.66 283.10,230.70" fill="#5250b6"/>
<polyline points="283.10,230.70 283.70,227.10" fill="none" stroke="#3e3ca0" stroke-width="0.7"/>
<line x1="283.70" y1="227.60" x2="292.33" y2="227.56" stroke="#34328f" stroke-width="1.2"/>
<polygon points="305.41,226.88 314.57,226.84 314.12,230.67 304.90,230.71" fill="#5250b6"/>
<polyline points="304.90,230.71 305.41,226.88" fill="none" stroke="#3e3ca0" stroke-width="0.7"/>
<line x1="305.41" y1="227.38" x2="314.57" y2="227.34" stroke="#34328f" stroke-width="1.2"/>
<polygon points="327.58,226.90 336.15,226.86 335.85,230.44 327.23,230.49" fill="#5250b6"/>
<polyline points="327.23,230.49 327.58,226.90" fill="none" stroke="#3e3ca0" stroke-width="0.7"/>
<line x1="327.58" y1="227.40" x2="336.15" y2="227.36" stroke="#34328f" stroke-width="1.2"/>
<polygon points="350.22,227.14 357.11,227.11 356.97,229.99 350.05,230.02" fill="#5250b6"/>
<polyline points="350.05,230.02 350.22,227.14" fill="none" stroke="#3e3ca0" stroke-width="0.7"/>
<line x1="350.22" y1="227.64" x2="357.11" y2="227.61" stroke="#34328f" stroke-width="1.2"/>
<polygon points="371.17,226.70 379.69,226.66 379.65,230.23 371.08,230.27" fill="#5250b6"/>
<polyline points="371.08,230.27 371.17,226.70" fill="none" stroke="#3e3ca0" stroke-width="0.7"/>
<line x1="371.17" y1="227.20" x2="379.69" y2="227.16" stroke="#34328f" stroke-width="1.2"/>
<rect x="346.1" y="223.3" width="12.6" height="9.9" fill="none" stroke="#d8d8e8" stroke-width="0.8"/>
<line x1="346.1" y1="233.5" x2="259.5" y2="283.2" stroke="#555" stroke-width="0.75" stroke-dasharray="3,2"/>
<line x1="358.7" y1="235.6" x2="372.8" y2="283.2" stroke="#555" stroke-width="0.75" stroke-dasharray="3,2"/>
<rect x="259.2" y="283.5" width="113.8" height="12.9" fill="#4760a8"/>
<rect x="261.9" y="287.3" width="108.3" height="6.5" fill="#fff"/>
<rect x="296.6" y="283" width="40.3" height="4.4" fill="#fff"/>
<line x1="301.4" y1="285.3" x2="331.6" y2="285.3" stroke="#3a464c" stroke-width="1.3"/>
<polygon points="299,285.3 303.8,282.3 302.3,285.3 303.8,288.3" fill="#3a464c"/>
<polygon points="334,285.3 329.2,282.3 330.7,285.3 329.2,288.3" fill="#3a464c"/>
<text x="312.3" y="282.2" font-style="italic" font-size="11" fill="#333">w</text>
<line x1="261.76" y1="301.5" x2="370.64" y2="301.5" stroke="#3a464c" stroke-width="1.3"/>
<polygon points="259.2,301.5 264.32,298.3 262.71999999999997,301.5 264.32,304.7" fill="#3a464c"/>
<polygon points="373.2,301.5 368.08,298.3 369.68,301.5 368.08,304.7" fill="#3a464c"/>
<text x="311.6" y="313.8" font-style="italic" font-size="12.5" fill="#2a2a2a">D</text>
<line x1="229.4" y1="175.5" x2="229.4" y2="179.5" stroke="#c8cfd0" stroke-width="0.9"/>
<rect x="473.3" y="52.2" width="26.4" height="26.4" fill="#9da4cf" stroke="#5f6479" stroke-width="0.9"/>
<rect x="501.9" y="52.2" width="26.4" height="26.4" fill="#9da4cf" stroke="#5f6479" stroke-width="0.9"/>
<rect x="510.85" y="61.15" width="8.5" height="8.5" fill="#465b9b"/>
<rect x="530.2" y="52.2" width="26.4" height="26.4" fill="#9da4cf" stroke="#5f6479" stroke-width="0.9"/>
<rect x="538.80" y="60.80" width="9.2" height="9.2" fill="#465b9b"/>
<rect x="558.6" y="52.2" width="26.4" height="26.4" fill="#9da4cf" stroke="#5f6479" stroke-width="0.9"/>
<rect x="567.15" y="60.75" width="9.3" height="9.3" fill="#465b9b"/>
<rect x="587.2" y="52.2" width="26.4" height="26.4" fill="#9da4cf" stroke="#5f6479" stroke-width="0.9"/>
<rect x="595.55" y="60.55" width="9.7" height="9.7" fill="#465b9b"/>
<rect x="615.4" y="52.2" width="26.4" height="26.4" fill="#9da4cf" stroke="#5f6479" stroke-width="0.9"/>
<rect x="623.05" y="59.85" width="11.1" height="11.1" fill="#465b9b"/>
<rect x="643.4" y="52.2" width="26.4" height="26.4" fill="#9da4cf" stroke="#5f6479" stroke-width="0.9"/>
<rect x="650.50" y="59.30" width="12.2" height="12.2" fill="#465b9b"/>
<rect x="472.6" y="92.5" width="196.79999999999995" height="145.0" fill="url(#cg)"/>
<line x1="472.6" y1="92.5" x2="472.6" y2="237.5" stroke="#9ba1a5" stroke-width="1"/>
<line x1="472.6" y1="237.5" x2="669.4" y2="237.5" stroke="#9ba1a5" stroke-width="1"/>
<line x1="467.40000000000003" y1="237.50" x2="472.6" y2="237.50" stroke="#9ba1a5" stroke-width="1"/>
<text x="465.0" y="242.00" text-anchor="end" font-size="10.2" fill="#333">0</text>
<line x1="467.40000000000003" y1="213.33" x2="472.6" y2="213.33" stroke="#9ba1a5" stroke-width="1"/>
<text x="465.0" y="217.83" text-anchor="end" font-size="10.2" fill="#333">60</text>
<line x1="467.40000000000003" y1="189.16" x2="472.6" y2="189.16" stroke="#9ba1a5" stroke-width="1"/>
<text x="465.0" y="193.66" text-anchor="end" font-size="10.2" fill="#333">120</text>
<line x1="467.40000000000003" y1="164.99" x2="472.6" y2="164.99" stroke="#9ba1a5" stroke-width="1"/>
<text x="465.0" y="169.49" text-anchor="end" font-size="10.2" fill="#333">180</text>
<line x1="467.40000000000003" y1="140.82" x2="472.6" y2="140.82" stroke="#9ba1a5" stroke-width="1"/>
<text x="465.0" y="145.32" text-anchor="end" font-size="10.2" fill="#333">240</text>
<line x1="467.40000000000003" y1="116.65" x2="472.6" y2="116.65" stroke="#9ba1a5" stroke-width="1"/>
<text x="465.0" y="121.15" text-anchor="end" font-size="10.2" fill="#333">300</text>
<line x1="467.40000000000003" y1="92.48" x2="472.6" y2="92.48" stroke="#9ba1a5" stroke-width="1"/>
<text x="465.0" y="96.98" text-anchor="end" font-size="10.2" fill="#333">360</text>
<line x1="472.10" y1="237.5" x2="472.10" y2="242.2" stroke="#9ba1a5" stroke-width="1"/>
<text x="472.10" y="253.8" text-anchor="middle" font-size="10.2" fill="#333">0.0</text>
<line x1="521.43" y1="237.5" x2="521.43" y2="242.2" stroke="#9ba1a5" stroke-width="1"/>
<text x="521.43" y="253.8" text-anchor="middle" font-size="10.2" fill="#333">0.1</text>
<line x1="570.76" y1="237.5" x2="570.76" y2="242.2" stroke="#9ba1a5" stroke-width="1"/>
<text x="570.76" y="253.8" text-anchor="middle" font-size="10.2" fill="#333">0.2</text>
<line x1="620.09" y1="237.5" x2="620.09" y2="242.2" stroke="#9ba1a5" stroke-width="1"/>
<text x="620.09" y="253.8" text-anchor="middle" font-size="10.2" fill="#333">0.3</text>
<line x1="669.42" y1="237.5" x2="669.42" y2="242.2" stroke="#9ba1a5" stroke-width="1"/>
<text x="669.42" y="253.8" text-anchor="middle" font-size="10.2" fill="#333">0.4</text>
<text transform="translate(434.0,186.6) rotate(-90) scale(0.93,1)" font-size="12" fill="#333">Phase (º)</text>
<text x="559.5" y="273.4" font-style="italic" font-size="12" fill="#333">w<tspan font-style="normal" dx="0.3">/</tspan><tspan dx="1.4">λ</tspan><tspan dy="4.2" dx="1.0" font-size="7.5" font-style="normal">0</tspan></text>
<path d="M472.10,237.50 L474.37,237.43 L477.53,237.34 L481.26,237.22 L485.24,237.10 L489.13,236.95 L492.60,236.80 L495.77,236.62 L498.90,236.42 L501.96,236.20 L504.86,235.98 L507.56,235.78 L510.00,235.60 L512.04,235.49 L513.71,235.44 L515.17,235.40 L516.59,235.33 L518.15,235.18 L520.00,234.90 L522.21,234.48 L524.66,233.94 L527.24,233.33 L529.84,232.67 L532.36,231.98 L534.70,231.30 L536.90,230.60 L539.07,229.85 L541.15,229.08 L543.11,228.31 L544.91,227.58 L546.50,226.90 L547.85,226.28 L548.99,225.69 L549.96,225.12 L550.82,224.59 L551.62,224.09 L552.40,223.60 L553.12,223.20 L553.74,222.90 L554.29,222.62 L554.83,222.29 L555.38,221.84 L556.00,221.20 L556.68,220.37 L557.38,219.40 L558.10,218.32 L558.84,217.12 L559.61,215.81 L560.40,214.40 L561.25,212.82 L562.16,211.04 L563.09,209.15 L564.01,207.24 L564.86,205.40 L565.60,203.70 L566.22,202.22 L566.74,200.89 L567.21,199.63 L567.63,198.34 L568.05,196.93 L568.50,195.30 L568.96,193.40 L569.42,191.28 L569.88,189.04 L570.32,186.77 L570.76,184.56 L571.20,182.50 L571.64,180.58 L572.07,178.73 L572.50,176.93 L572.92,175.19 L573.32,173.48 L573.70,171.80 L574.05,170.20 L574.36,168.70 L574.66,167.23 L574.95,165.75 L575.26,164.19 L575.60,162.50 L575.95,160.74 L576.29,158.96 L576.64,157.11 L577.03,155.12 L577.48,152.94 L578.00,150.50 L578.61,147.62 L579.29,144.32 L580.03,140.83 L580.81,137.37 L581.60,134.18 L582.40,131.50 L583.18,129.38 L583.94,127.64 L584.72,126.18 L585.56,124.88 L586.47,123.62 L587.50,122.30 L588.66,120.91 L589.95,119.53 L591.31,118.19 L592.72,116.94 L594.13,115.80 L595.50,114.80 L596.82,113.97 L598.11,113.30 L599.41,112.74 L600.74,112.25 L602.13,111.78 L603.60,111.30 L605.13,110.82 L606.68,110.37 L608.29,109.96 L610.00,109.55 L611.82,109.13 L613.80,108.70 L615.98,108.23 L618.34,107.74 L620.83,107.24 L623.37,106.76 L625.92,106.31 L628.40,105.90 L630.83,105.55 L633.27,105.24 L635.70,104.96 L638.13,104.70 L640.57,104.45 L643.00,104.20 L645.46,103.95 L647.95,103.71 L650.44,103.47 L652.90,103.26 L655.29,103.07 L657.60,102.90 L659.94,102.76 L662.36,102.66 L664.71,102.57 L666.87,102.50 L668.68,102.45 L670.00,102.40" fill="none" stroke="#3a4347" stroke-width="1.9" stroke-linejoin="round"/>
<circle cx="472.1" cy="237.5" r="3.45" fill="url(#ptg)" stroke="#1e3366" stroke-width="0.9"/>
<circle cx="556.2" cy="222.4" r="3.45" fill="url(#ptg)" stroke="#1e3366" stroke-width="0.9"/>
<circle cx="565.6" cy="203.5" r="3.45" fill="url(#ptg)" stroke="#1e3366" stroke-width="0.9"/>
<circle cx="571.2" cy="182.6" r="3.45" fill="url(#ptg)" stroke="#1e3366" stroke-width="0.9"/>
<circle cx="575.3" cy="156.8" r="3.45" fill="url(#ptg)" stroke="#1e3366" stroke-width="0.9"/>
<circle cx="580.6" cy="135.9" r="3.45" fill="url(#ptg)" stroke="#1e3366" stroke-width="0.9"/>
<circle cx="595.3" cy="112.6" r="3.45" fill="url(#ptg)" stroke="#1e3366" stroke-width="0.9"/>
<rect x="481.3" y="94.5" width="81.3" height="32.8" fill="#fff" stroke="#8c8c8c" stroke-width="0.9"/>
<line x1="486.4" y1="103.2" x2="495.7" y2="103.2" stroke="#3a4347" stroke-width="1.6"/>
<circle cx="491.1" cy="116.8" r="3.4" fill="url(#ptg)" stroke="#1e3366" stroke-width="0.9"/>
<text x="501.2" y="108.1" font-size="12.1" fill="#333">Analysis</text>
<text x="501.2" y="120.8" font-size="12.1" fill="#333">Simulation</text>
<rect x="76.4" y="324.6" width="235.98" height="175.90" fill="url(#dg1)"/>
<line x1="76.4" y1="324.6" x2="76.4" y2="500.5" stroke="#9ba1a5" stroke-width="1"/>
<line x1="76.4" y1="500.5" x2="312.38" y2="500.5" stroke="#9ba1a5" stroke-width="1"/>
<line x1="71.4" y1="500.50" x2="76.4" y2="500.50" stroke="#9ba1a5" stroke-width="1"/>
<text x="69.0" y="505.00" text-anchor="end" font-size="10.2" fill="#333">0.0</text>
<line x1="71.4" y1="478.51" x2="76.4" y2="478.51" stroke="#9ba1a5" stroke-width="1"/>
<text x="69.0" y="483.01" text-anchor="end" font-size="10.2" fill="#333">0.1</text>
<line x1="71.4" y1="456.52" x2="76.4" y2="456.52" stroke="#9ba1a5" stroke-width="1"/>
<text x="69.0" y="461.02" text-anchor="end" font-size="10.2" fill="#333">0.2</text>
<line x1="71.4" y1="434.53" x2="76.4" y2="434.53" stroke="#9ba1a5" stroke-width="1"/>
<text x="69.0" y="439.03" text-anchor="end" font-size="10.2" fill="#333">0.3</text>
<line x1="71.4" y1="412.54" x2="76.4" y2="412.54" stroke="#9ba1a5" stroke-width="1"/>
<text x="69.0" y="417.04" text-anchor="end" font-size="10.2" fill="#333">0.4</text>
<line x1="71.4" y1="390.55" x2="76.4" y2="390.55" stroke="#9ba1a5" stroke-width="1"/>
<text x="69.0" y="395.05" text-anchor="end" font-size="10.2" fill="#333">0.5</text>
<line x1="71.4" y1="368.56" x2="76.4" y2="368.56" stroke="#9ba1a5" stroke-width="1"/>
<text x="69.0" y="373.06" text-anchor="end" font-size="10.2" fill="#333">0.6</text>
<line x1="71.4" y1="346.57" x2="76.4" y2="346.57" stroke="#9ba1a5" stroke-width="1"/>
<text x="69.0" y="351.07" text-anchor="end" font-size="10.2" fill="#333">0.7</text>
<line x1="71.4" y1="324.58" x2="76.4" y2="324.58" stroke="#9ba1a5" stroke-width="1"/>
<text x="69.0" y="329.08" text-anchor="end" font-size="10.2" fill="#333">0.8</text>
<line x1="76.40" y1="500.5" x2="76.40" y2="505.1" stroke="#9ba1a5" stroke-width="1"/>
<text x="76.40" y="518" text-anchor="middle" font-size="10.2" fill="#333">−3</text>
<line x1="115.73" y1="500.5" x2="115.73" y2="505.1" stroke="#9ba1a5" stroke-width="1"/>
<text x="115.73" y="518" text-anchor="middle" font-size="10.2" fill="#333">−2</text>
<line x1="155.06" y1="500.5" x2="155.06" y2="505.1" stroke="#9ba1a5" stroke-width="1"/>
<text x="155.06" y="518" text-anchor="middle" font-size="10.2" fill="#333">−1</text>
<line x1="194.39" y1="500.5" x2="194.39" y2="505.1" stroke="#9ba1a5" stroke-width="1"/>
<text x="194.39" y="518" text-anchor="middle" font-size="10.2" fill="#333">0</text>
<line x1="233.72" y1="500.5" x2="233.72" y2="505.1" stroke="#9ba1a5" stroke-width="1"/>
<text x="233.72" y="518" text-anchor="middle" font-size="10.2" fill="#333">1</text>
<line x1="273.05" y1="500.5" x2="273.05" y2="505.1" stroke="#9ba1a5" stroke-width="1"/>
<text x="273.05" y="518" text-anchor="middle" font-size="10.2" fill="#333">2</text>
<line x1="312.38" y1="500.5" x2="312.38" y2="505.1" stroke="#9ba1a5" stroke-width="1"/>
<text x="312.38" y="518" text-anchor="middle" font-size="10.2" fill="#333">3</text>
<path d="M76.4,485.9 L79.5,484.8 L83.9,483.3 L89.1,481.5 L94.2,479.7 L98.9,478.1 L103.1,476.6 L107.3,475.0 L111.3,473.5 L115.0,472.1 L118.2,471.0 L120.7,470.3 L122.5,469.9 L124.1,469.6 L125.7,469.2 L127.9,468.5 L130.7,467.5 L133.8,466.3 L137.1,465.0 L140.4,463.6 L143.3,462.1 L146.0,460.6 L148.5,459.0 L150.9,457.4 L153.1,455.7 L154.9,454.0 L156.3,452.5 L157.3,451.0 L158.1,449.5 L158.8,447.7 L159.7,445.3 L160.7,442.3 L161.7,438.7 L162.7,434.8 L163.6,430.8 L164.5,427.0 L165.2,423.2 L165.8,419.4 L166.4,415.6 L167.0,411.8 L167.6,408.2 L168.3,404.7 L169.0,401.3 L169.8,397.9 L170.6,394.7 L171.3,391.7 L172.0,388.8 L172.7,386.1 L173.3,383.5 L174.1,381.1 L174.9,378.8 L175.9,376.7 L177.0,374.8 L178.2,373.0 L179.3,371.3 L180.4,369.6 L181.5,367.9 L182.5,366.2 L183.6,364.7 L184.5,363.3 L185.3,362.3 L185.9,361.7 L186.3,361.4 L186.6,361.4 L187.0,361.4 L187.3,361.6 L187.7,361.6 L188.0,361.7 L188.4,361.9 L188.7,362.5 L189.2,363.8 L189.7,366.0 L190.3,368.9 L190.9,372.2 L191.6,375.6 L192.4,378.8 L193.3,382.1 L194.3,385.8 L195.4,389.4 L196.4,392.1 L197.4,393.5 L198.3,393.2 L199.1,391.5 L199.9,389.1 L200.7,386.5 L201.6,384.3 L202.5,382.3 L203.5,380.2 L204.5,378.2 L205.4,376.4 L206.2,375.1 L206.8,374.4 L207.3,374.1 L207.8,374.0 L208.3,374.1 L208.9,374.2 L209.7,374.3 L210.7,374.6 L211.7,374.8 L212.7,375.1 L213.5,375.1 L214.1,375.0 L214.7,374.8 L215.1,374.5 L215.7,374.0 L216.3,373.3 L217.1,372.2 L218.1,370.9 L219.1,369.4 L220.0,368.0 L220.9,366.9 L221.7,366.2 L222.4,365.6 L223.0,365.2 L223.6,365.0 L224.2,365.0 L224.7,365.1 L225.1,365.4 L225.5,365.9 L225.9,366.6 L226.4,367.8 L227.0,369.5 L227.6,371.7 L228.3,374.1 L229.2,376.6 L230.1,378.8 L231.2,380.8 L232.4,382.8 L233.7,384.7 L235.1,386.4 L236.6,388.0 L238.2,389.5 L239.9,391.0 L241.6,392.4 L243.3,393.3 L244.9,393.8 L246.3,393.7 L247.7,393.1 L248.9,392.2 L250.2,391.0 L251.5,389.6 L252.8,387.9 L254.1,385.7 L255.5,383.5 L256.8,381.3 L258.1,379.7 L259.4,378.5 L260.8,377.5 L262.2,376.8 L263.5,376.4 L264.7,376.4 L265.8,376.7 L266.9,377.4 L267.9,378.4 L268.8,379.7 L269.7,381.4 L270.5,383.5 L271.3,386.1 L272.0,388.9 L272.7,391.8 L273.3,394.6 L273.8,397.5 L274.3,400.7 L274.7,403.8 L275.1,406.3 L275.5,407.8 L276.0,408.1 L276.4,407.5 L276.9,406.2 L277.4,404.6 L278.0,402.9 L278.6,400.9 L279.3,398.4 L280.0,395.7 L280.7,393.2 L281.3,391.3 L281.9,389.9 L282.4,388.9 L282.8,388.2 L283.3,387.6 L283.8,387.2 L284.3,387.1 L284.8,387.3 L285.2,387.5 L285.7,387.6 L286.3,387.2 L286.9,386.2 L287.6,384.8 L288.2,383.2 L288.9,381.4 L289.6,379.7 L290.2,377.9 L290.9,375.9 L291.5,373.9 L292.2,372.1 L292.9,370.6 L293.7,369.4 L294.5,368.4 L295.4,367.7 L296.2,367.3 L297.0,367.3 L297.7,367.7 L298.3,368.6 L299.0,369.7 L299.6,371.3 L300.3,373.1 L301.1,375.8 L302.0,379.3 L302.8,382.8 L303.7,385.7 L304.5,387.2 L305.2,386.9 L305.9,385.2 L306.6,382.8 L307.2,380.2 L307.8,378.1 L308.3,376.3 L308.8,374.5 L309.3,372.8 L309.8,371.2 L310.2,369.8 L310.7,368.6 L311.1,367.6 L311.6,366.8 L311.9,366.1 L312.2,365.6" fill="none" stroke="#3a4347" stroke-width="1.8" stroke-linejoin="round"/>
<path d="M76.4,499.4 L81.2,499.4 L88.0,499.4 L95.8,499.4 L103.5,499.4 L110.0,499.4 L115.4,499.4 L120.3,499.4 L124.8,499.4 L128.7,499.3 L132.0,499.3 L134.5,499.3 L136.2,499.2 L137.4,499.1 L138.4,499.0 L139.5,498.9 L140.6,498.7 L141.5,498.6 L142.3,498.4 L143.1,498.1 L144.0,497.8 L144.9,497.5 L145.7,497.3 L146.6,496.9 L147.5,496.4 L148.5,495.5 L149.6,494.2 L150.9,492.5 L152.2,490.7 L153.5,488.7 L154.9,486.8 L156.4,484.8 L157.9,482.8 L159.5,480.7 L161.0,478.8 L162.6,477.2 L164.2,476.1 L165.8,475.2 L167.4,474.6 L168.9,474.0 L170.3,473.3 L171.5,472.6 L172.6,472.0 L173.5,471.3 L174.4,470.5 L175.2,469.5 L175.9,468.3 L176.5,466.9 L177.0,465.4 L177.5,463.7 L178.0,461.7 L178.6,459.5 L179.2,457.0 L179.7,454.3 L180.3,451.4 L180.9,448.2 L181.5,444.6 L182.2,440.4 L182.8,436.2 L183.4,432.3 L183.8,429.0 L184.0,426.6 L184.0,425.0 L183.9,423.6 L183.9,422.0 L184.1,420.0 L184.5,417.2 L185.1,413.9 L185.7,410.4 L186.4,407.2 L186.9,404.6 L187.3,402.6 L187.7,401.0 L188.0,399.7 L188.3,398.8 L188.7,398.1 L189.0,397.7 L189.4,397.6 L189.7,397.8 L190.1,398.2 L190.6,399.0 L191.2,400.3 L192.0,402.1 L192.7,404.0 L193.5,405.9 L194.2,407.3 L194.8,408.3 L195.2,409.1 L195.7,409.7 L196.3,410.0 L197.0,410.1 L197.9,409.8 L198.9,409.3 L200.0,408.5 L201.2,407.5 L202.5,406.4 L203.9,405.1 L205.3,403.6 L206.9,402.0 L208.4,400.4 L209.9,399.0 L211.4,397.8 L212.8,396.8 L214.3,395.9 L215.7,394.8 L217.2,393.5 L218.7,391.8 L220.3,389.8 L221.8,387.8 L223.3,385.9 L224.6,384.3 L225.7,383.1 L226.6,382.1 L227.5,381.3 L228.3,380.7 L229.2,380.3 L230.1,380.2 L231.0,380.3 L231.9,380.6 L232.8,381.0 L233.8,381.6 L234.8,382.2 L235.9,383.0 L237.0,383.9 L238.2,385.0 L239.3,386.2 L240.4,387.6 L241.4,389.3 L242.4,391.1 L243.6,392.9 L244.9,394.6 L246.6,396.7 L248.5,399.1 L250.5,401.4 L252.4,402.8 L254.0,402.9 L255.3,401.1 L256.3,397.9 L257.2,393.9 L258.1,389.9 L259.0,386.3 L260.0,383.2 L261.0,380.0 L262.0,377.1 L263.0,374.4 L263.9,372.3 L264.8,370.7 L265.7,369.5 L266.6,368.7 L267.4,368.2 L268.1,368.1 L268.7,368.2 L269.1,368.6 L269.6,369.4 L270.0,370.6 L270.5,372.3 L271.1,374.6 L271.7,377.6 L272.4,380.9 L273.1,384.4 L273.8,388.0 L274.6,391.8 L275.5,395.9 L276.3,400.2 L277.2,404.2 L278.0,407.8 L278.8,411.0 L279.5,414.0 L280.2,416.7 L280.8,419.1 L281.3,421.1 L281.6,422.5 L281.7,423.2 L281.7,423.8 L281.9,424.7 L282.2,426.3 L282.8,429.0 L283.6,432.4 L284.4,436.2 L285.4,439.8 L286.3,442.7 L287.3,444.9 L288.3,446.6 L289.3,448.1 L290.4,449.5 L291.4,450.9 L292.4,452.4 L293.5,453.8 L294.5,455.1 L295.5,456.5 L296.5,458.0 L297.4,459.7 L298.3,461.4 L299.2,463.2 L299.9,464.9 L300.6,466.2 L301.1,467.2 L301.5,467.9 L301.8,468.4 L302.2,468.9 L302.6,469.3 L303.1,469.6 L303.8,469.7 L304.4,469.8 L305.1,470.2 L305.7,470.9 L306.3,472.1 L306.9,473.7 L307.6,475.5 L308.2,477.5 L308.8,479.5 L309.5,481.8 L310.2,484.6 L310.8,487.3 L311.4,489.6 L311.8,491.3" fill="none" stroke="#7fa2cf" stroke-width="1.6" stroke-linejoin="round"/>
<circle cx="75.9" cy="495.1" r="3.45" fill="url(#ptg)" stroke="#1e3366" stroke-width="0.9"/>
<circle cx="100.2" cy="499.0" r="3.45" fill="url(#ptg)" stroke="#1e3366" stroke-width="0.9"/>
<circle cx="164.4" cy="471.1" r="3.45" fill="url(#ptg)" stroke="#1e3366" stroke-width="0.9"/>
<circle cx="178.3" cy="460.2" r="3.45" fill="url(#ptg)" stroke="#1e3366" stroke-width="0.9"/>
<circle cx="184.3" cy="466.1" r="3.45" fill="url(#ptg)" stroke="#1e3366" stroke-width="0.9"/>
<circle cx="174.8" cy="398.5" r="3.45" fill="url(#ptg)" stroke="#1e3366" stroke-width="0.9"/>
<circle cx="188.7" cy="381.7" r="3.45" fill="url(#ptg)" stroke="#1e3366" stroke-width="0.9"/>
<circle cx="192.9" cy="429.3" r="3.45" fill="url(#ptg)" stroke="#1e3366" stroke-width="0.9"/>
<circle cx="198.9" cy="439.5" r="3.45" fill="url(#ptg)" stroke="#1e3366" stroke-width="0.9"/>
<circle cx="203.5" cy="443.1" r="3.45" fill="url(#ptg)" stroke="#1e3366" stroke-width="0.9"/>
<circle cx="208.3" cy="439.5" r="3.45" fill="url(#ptg)" stroke="#1e3366" stroke-width="0.9"/>
<circle cx="213.6" cy="439.5" r="3.45" fill="url(#ptg)" stroke="#1e3366" stroke-width="0.9"/>
<circle cx="218.4" cy="426.2" r="3.45" fill="url(#ptg)" stroke="#1e3366" stroke-width="0.9"/>
<circle cx="223.1" cy="402.0" r="3.45" fill="url(#ptg)" stroke="#1e3366" stroke-width="0.9"/>
<circle cx="228.5" cy="394.8" r="3.45" fill="url(#ptg)" stroke="#1e3366" stroke-width="0.9"/>
<circle cx="233.6" cy="410.2" r="3.45" fill="url(#ptg)" stroke="#1e3366" stroke-width="0.9"/>
<circle cx="238.5" cy="399.4" r="3.45" fill="url(#ptg)" stroke="#1e3366" stroke-width="0.9"/>
<circle cx="243.4" cy="430.0" r="3.45" fill="url(#ptg)" stroke="#1e3366" stroke-width="0.9"/>
<circle cx="248.5" cy="470.9" r="3.45" fill="url(#ptg)" stroke="#1e3366" stroke-width="0.9"/>
<circle cx="253.6" cy="458.0" r="3.45" fill="url(#ptg)" stroke="#1e3366" stroke-width="0.9"/>
<circle cx="258.6" cy="430.0" r="3.45" fill="url(#ptg)" stroke="#1e3366" stroke-width="0.9"/>
<circle cx="264.4" cy="464.8" r="3.45" fill="url(#ptg)" stroke="#1e3366" stroke-width="0.9"/>
<circle cx="268.2" cy="446.7" r="3.45" fill="url(#ptg)" stroke="#1e3366" stroke-width="0.9"/>
<circle cx="272.9" cy="487.6" r="3.45" fill="url(#ptg)" stroke="#1e3366" stroke-width="0.9"/>
<circle cx="277.5" cy="462.7" r="3.45" fill="url(#ptg)" stroke="#1e3366" stroke-width="0.9"/>
<circle cx="283.7" cy="489.7" r="3.45" fill="url(#ptg)" stroke="#1e3366" stroke-width="0.9"/>
<circle cx="293.2" cy="477.5" r="3.45" fill="url(#ptg)" stroke="#1e3366" stroke-width="0.9"/>
<circle cx="298.4" cy="470.7" r="3.45" fill="url(#ptg)" stroke="#1e3366" stroke-width="0.9"/>
<circle cx="307.9" cy="473.9" r="3.45" fill="url(#ptg)" stroke="#1e3366" stroke-width="0.9"/>
<circle cx="311.8" cy="491.4" r="3.45" fill="url(#ptg)" stroke="#1e3366" stroke-width="0.9"/>
<rect x="81.9" y="324.3" width="91.5" height="45.3" fill="#fff" stroke="#8c8c8c" stroke-width="0.9"/>
<line x1="87.0" y1="333" x2="96.4" y2="333" stroke="#3a4347" stroke-width="1.8"/>
<line x1="87.0" y1="346.6" x2="96.4" y2="346.6" stroke="#7fa2cf" stroke-width="1.6"/>
<circle cx="91.5" cy="359.6" r="3.3" fill="url(#ptg)" stroke="#1e3366" stroke-width="0.9"/>
<text x="101.5" y="337.5" font-size="11" fill="#333">SD (sim.)</text>
<text x="101.5" y="350.7" font-size="11" fill="#333">BMSD (sim.)</text>
<text x="101.5" y="363.5" font-size="11" fill="#333">BMSD (exp.)</text>
<text x="134.4" y="536.8" font-size="11.8" fill="#333">Frequency (10log (<tspan font-style="italic">f</tspan><tspan dx="0.6">/</tspan><tspan font-style="italic" dx="0.4">f</tspan><tspan dy="3.2" font-size="7.5">0</tspan><tspan dy="-3.2">))</tspan></text>
<text transform="translate(38.5,428.0) rotate(-90) scale(0.94,1)" font-size="12" fill="#333"><tspan font-style="italic">d</tspan><tspan dy="3" font-size="8">n</tspan><tspan dy="-3"> (0</tspan><tspan font-size="13.5" dy="0.6">°</tspan><tspan dy="-0.6">)</tspan></text>
<rect x="427.7" y="324.6" width="235.98" height="175.90" fill="url(#dg2)"/>
<line x1="427.7" y1="324.6" x2="427.7" y2="500.5" stroke="#9ba1a5" stroke-width="1"/>
<line x1="427.7" y1="500.5" x2="663.68" y2="500.5" stroke="#9ba1a5" stroke-width="1"/>
<line x1="422.7" y1="500.50" x2="427.7" y2="500.50" stroke="#9ba1a5" stroke-width="1"/>
<text x="420.3" y="505.00" text-anchor="end" font-size="10.2" fill="#333">0.0</text>
<line x1="422.7" y1="478.51" x2="427.7" y2="478.51" stroke="#9ba1a5" stroke-width="1"/>
<text x="420.3" y="483.01" text-anchor="end" font-size="10.2" fill="#333">0.1</text>
<line x1="422.7" y1="456.52" x2="427.7" y2="456.52" stroke="#9ba1a5" stroke-width="1"/>
<text x="420.3" y="461.02" text-anchor="end" font-size="10.2" fill="#333">0.2</text>
<line x1="422.7" y1="434.53" x2="427.7" y2="434.53" stroke="#9ba1a5" stroke-width="1"/>
<text x="420.3" y="439.03" text-anchor="end" font-size="10.2" fill="#333">0.3</text>
<line x1="422.7" y1="412.54" x2="427.7" y2="412.54" stroke="#9ba1a5" stroke-width="1"/>
<text x="420.3" y="417.04" text-anchor="end" font-size="10.2" fill="#333">0.4</text>
<line x1="422.7" y1="390.55" x2="427.7" y2="390.55" stroke="#9ba1a5" stroke-width="1"/>
<text x="420.3" y="395.05" text-anchor="end" font-size="10.2" fill="#333">0.5</text>
<line x1="422.7" y1="368.56" x2="427.7" y2="368.56" stroke="#9ba1a5" stroke-width="1"/>
<text x="420.3" y="373.06" text-anchor="end" font-size="10.2" fill="#333">0.6</text>
<line x1="422.7" y1="346.57" x2="427.7" y2="346.57" stroke="#9ba1a5" stroke-width="1"/>
<text x="420.3" y="351.07" text-anchor="end" font-size="10.2" fill="#333">0.7</text>
<line x1="422.7" y1="324.58" x2="427.7" y2="324.58" stroke="#9ba1a5" stroke-width="1"/>
<text x="420.3" y="329.08" text-anchor="end" font-size="10.2" fill="#333">0.8</text>
<line x1="427.70" y1="500.5" x2="427.70" y2="505.1" stroke="#9ba1a5" stroke-width="1"/>
<text x="427.70" y="518" text-anchor="middle" font-size="10.2" fill="#333">−3</text>
<line x1="467.03" y1="500.5" x2="467.03" y2="505.1" stroke="#9ba1a5" stroke-width="1"/>
<text x="467.03" y="518" text-anchor="middle" font-size="10.2" fill="#333">−2</text>
<line x1="506.36" y1="500.5" x2="506.36" y2="505.1" stroke="#9ba1a5" stroke-width="1"/>
<text x="506.36" y="518" text-anchor="middle" font-size="10.2" fill="#333">−1</text>
<line x1="545.69" y1="500.5" x2="545.69" y2="505.1" stroke="#9ba1a5" stroke-width="1"/>
<text x="545.69" y="518" text-anchor="middle" font-size="10.2" fill="#333">0</text>
<line x1="585.02" y1="500.5" x2="585.02" y2="505.1" stroke="#9ba1a5" stroke-width="1"/>
<text x="585.02" y="518" text-anchor="middle" font-size="10.2" fill="#333">1</text>
<line x1="624.35" y1="500.5" x2="624.35" y2="505.1" stroke="#9ba1a5" stroke-width="1"/>
<text x="624.35" y="518" text-anchor="middle" font-size="10.2" fill="#333">2</text>
<line x1="663.68" y1="500.5" x2="663.68" y2="505.1" stroke="#9ba1a5" stroke-width="1"/>
<text x="663.68" y="518" text-anchor="middle" font-size="10.2" fill="#333">3</text>
<path d="M427.6,500.3 L431.3,500.2 L436.6,500.1 L442.2,499.9 L446.7,499.6 L449.7,499.2 L452.0,498.8 L453.9,498.4 L456.0,497.9 L458.3,497.4 L460.7,497.0 L463.1,496.5 L465.4,496.1 L467.8,495.7 L470.3,495.3 L472.6,495.1 L474.7,494.9 L476.4,494.9 L477.7,495.1 L479.0,495.3 L480.6,495.6 L482.5,495.9 L484.5,496.3 L486.6,496.7 L488.8,496.8 L491.0,496.7 L493.4,496.5 L495.7,496.1 L498.1,495.6 L500.5,495.0 L502.9,494.3 L505.3,493.5 L507.5,492.6 L509.4,491.6 L511.2,490.5 L512.9,489.3 L514.5,487.9 L516.0,486.3 L517.5,484.6 L518.9,482.8 L520.3,480.9 L521.8,479.0 L523.3,476.9 L524.7,474.9 L526.1,472.7 L527.4,470.5 L528.6,468.2 L529.7,465.8 L530.8,463.4 L531.8,460.8 L532.7,458.0 L533.5,455.3 L534.3,452.8 L535.0,450.7 L535.5,448.9 L536.1,447.0 L536.7,444.7 L537.4,441.9 L538.1,438.9 L538.8,435.6 L539.5,432.0 L540.3,427.7 L541.2,422.7 L542.0,418.2 L542.5,415.0 L545.2,397.6 L548.6,360.3 L551.5,383.8 L552.0,395.0 L553.2,430.0 L553.1,453.6 L559.0,456.3 L561.7,425.1 L563.7,395.0 L565.6,372.6 L573.9,379.2 L578.5,371.8 L581.1,373.4 L584.6,388.0 L587.6,397.6 L590.9,419.7 L595.3,452.8 L600.8,466.0 L605.2,459.4 L607.4,446.2 L608.5,409.8 L610.3,464.9 L614.0,439.6 L617.4,408.7 L620.0,383.3 L622.4,446.2 L626.2,445.1 L629.5,423.0 L632.8,420.8 L637.7,406.9 L640.5,408.2 L644.5,448.4 L647.1,439.6 L652.7,436.3 L656.0,430.3 L660.4,426.3 L663.2,399.9 L665.2,381.1" fill="none" stroke="#3a4347" stroke-width="1.8" stroke-linejoin="round"/>
<path d="M427.6,500.3 L435.7,500.3 L447.3,500.4 L459.7,500.4 L470.0,500.3 L477.5,500.0 L483.6,499.5 L488.8,498.9 L493.4,498.4 L497.2,497.9 L500.1,497.5 L502.6,496.9 L505.1,496.1 L507.7,494.9 L510.2,493.5 L512.5,491.9 L514.5,490.2 L516.2,488.4 L517.6,486.6 L518.9,484.5 L520.3,482.0 L521.7,479.0 L523.2,475.5 L524.6,471.8 L526.1,468.0 L527.6,464.0 L529.2,459.7 L530.7,455.5 L532.0,451.7 L533.0,448.6 L533.8,446.0 L534.6,443.3 L535.5,440.0 L536.8,435.3 L538.3,429.8 L539.6,424.6 L540.6,421.0 L546.1,403.1 L550.7,393.9 L557.1,386.5 L560.7,385.4 L562.7,385.9 L566.8,364.4 L567.8,362.4 L571.4,357.8 L571.9,395.0 L573.2,430.7 L575.5,359.3 L576.5,359.3 L577.0,385.9 L579.6,384.7 L581.3,383.0 L582.9,389.6 L584.6,422.7 L586.5,402.1 L592.0,416.4 L599.7,415.3 L603.0,403.2 L606.3,408.7 L609.6,444.0 L611.8,417.5 L613.4,402.1 L616.9,403.2 L619.6,457.2 L625.1,455.0 L629.5,430.7 L632.8,434.1 L637.2,446.2 L641.6,448.4 L646.0,444.0 L650.4,457.2 L657.1,472.7 L664.8,483.0" fill="none" stroke="#7fa2cf" stroke-width="1.6" stroke-linejoin="round"/>
<circle cx="441.6" cy="490.3" r="3.45" fill="url(#ptg)" stroke="#1e3366" stroke-width="0.9"/>
<circle cx="456.5" cy="491.7" r="3.45" fill="url(#ptg)" stroke="#1e3366" stroke-width="0.9"/>
<circle cx="461.4" cy="491.7" r="3.45" fill="url(#ptg)" stroke="#1e3366" stroke-width="0.9"/>
<circle cx="467.0" cy="491.7" r="3.45" fill="url(#ptg)" stroke="#1e3366" stroke-width="0.9"/>
<circle cx="472.4" cy="491.7" r="3.45" fill="url(#ptg)" stroke="#1e3366" stroke-width="0.9"/>
<circle cx="476.4" cy="488.0" r="3.45" fill="url(#ptg)" stroke="#1e3366" stroke-width="0.9"/>
<circle cx="481.3" cy="492.9" r="3.45" fill="url(#ptg)" stroke="#1e3366" stroke-width="0.9"/>
<circle cx="491.3" cy="488.0" r="3.45" fill="url(#ptg)" stroke="#1e3366" stroke-width="0.9"/>
<circle cx="501.1" cy="485.4" r="3.45" fill="url(#ptg)" stroke="#1e3366" stroke-width="0.9"/>
<circle cx="496.5" cy="475.1" r="3.45" fill="url(#ptg)" stroke="#1e3366" stroke-width="0.9"/>
<circle cx="511.2" cy="478.9" r="3.45" fill="url(#ptg)" stroke="#1e3366" stroke-width="0.9"/>
<circle cx="506.3" cy="469.6" r="3.45" fill="url(#ptg)" stroke="#1e3366" stroke-width="0.9"/>
<circle cx="516.2" cy="445.3" r="3.45" fill="url(#ptg)" stroke="#1e3366" stroke-width="0.9"/>
<circle cx="521.0" cy="425.5" r="3.45" fill="url(#ptg)" stroke="#1e3366" stroke-width="0.9"/>
<circle cx="526.5" cy="418.3" r="3.45" fill="url(#ptg)" stroke="#1e3366" stroke-width="0.9"/>
<circle cx="530.9" cy="427.5" r="3.45" fill="url(#ptg)" stroke="#1e3366" stroke-width="0.9"/>
<circle cx="534.6" cy="402.3" r="3.45" fill="url(#ptg)" stroke="#1e3366" stroke-width="0.9"/>
<circle cx="542.1" cy="446.8" r="3.45" fill="url(#ptg)" stroke="#1e3366" stroke-width="0.9"/>
<circle cx="546.1" cy="394.2" r="3.45" fill="url(#ptg)" stroke="#1e3366" stroke-width="0.9"/>
<circle cx="550.2" cy="417.3" r="3.45" fill="url(#ptg)" stroke="#1e3366" stroke-width="0.9"/>
<circle cx="554.8" cy="408.0" r="3.45" fill="url(#ptg)" stroke="#1e3366" stroke-width="0.9"/>
<circle cx="560.9" cy="381.3" r="3.45" fill="url(#ptg)" stroke="#1e3366" stroke-width="0.9"/>
<circle cx="565.7" cy="420.6" r="3.45" fill="url(#ptg)" stroke="#1e3366" stroke-width="0.9"/>
<circle cx="570.4" cy="427.2" r="3.45" fill="url(#ptg)" stroke="#1e3366" stroke-width="0.9"/>
<circle cx="575.9" cy="414.6" r="3.45" fill="url(#ptg)" stroke="#1e3366" stroke-width="0.9"/>
<circle cx="581.0" cy="409.5" r="3.45" fill="url(#ptg)" stroke="#1e3366" stroke-width="0.9"/>
<circle cx="584.6" cy="424.3" r="3.45" fill="url(#ptg)" stroke="#1e3366" stroke-width="0.9"/>
<circle cx="590.2" cy="440.0" r="3.45" fill="url(#ptg)" stroke="#1e3366" stroke-width="0.9"/>
<circle cx="595.3" cy="453.9" r="3.45" fill="url(#ptg)" stroke="#1e3366" stroke-width="0.9"/>
<circle cx="600.2" cy="478.6" r="3.45" fill="url(#ptg)" stroke="#1e3366" stroke-width="0.9"/>
<circle cx="610.7" cy="474.9" r="3.45" fill="url(#ptg)" stroke="#1e3366" stroke-width="0.9"/>
<circle cx="615.2" cy="468.7" r="3.45" fill="url(#ptg)" stroke="#1e3366" stroke-width="0.9"/>
<circle cx="620.0" cy="487.4" r="3.45" fill="url(#ptg)" stroke="#1e3366" stroke-width="0.9"/>
<circle cx="625.3" cy="479.7" r="3.45" fill="url(#ptg)" stroke="#1e3366" stroke-width="0.9"/>
<circle cx="630.2" cy="488.8" r="3.45" fill="url(#ptg)" stroke="#1e3366" stroke-width="0.9"/>
<circle cx="635.0" cy="475.3" r="3.45" fill="url(#ptg)" stroke="#1e3366" stroke-width="0.9"/>
<circle cx="640.1" cy="482.6" r="3.45" fill="url(#ptg)" stroke="#1e3366" stroke-width="0.9"/>
<circle cx="644.9" cy="466.3" r="3.45" fill="url(#ptg)" stroke="#1e3366" stroke-width="0.9"/>
<circle cx="650.0" cy="491.0" r="3.45" fill="url(#ptg)" stroke="#1e3366" stroke-width="0.9"/>
<circle cx="655.3" cy="493.6" r="3.45" fill="url(#ptg)" stroke="#1e3366" stroke-width="0.9"/>
<circle cx="660.4" cy="489.6" r="3.45" fill="url(#ptg)" stroke="#1e3366" stroke-width="0.9"/>
<circle cx="664.8" cy="483.0" r="3.45" fill="url(#ptg)" stroke="#1e3366" stroke-width="0.9"/>
<rect x="435.2" y="324.3" width="91.5" height="45.3" fill="#fff" stroke="#8c8c8c" stroke-width="0.9"/>
<line x1="440.3" y1="333" x2="449.7" y2="333" stroke="#3a4347" stroke-width="1.8"/>
<line x1="440.3" y1="346.6" x2="449.7" y2="346.6" stroke="#7fa2cf" stroke-width="1.6"/>
<circle cx="444.8" cy="359.6" r="3.3" fill="url(#ptg)" stroke="#1e3366" stroke-width="0.9"/>
<text x="454.8" y="337.5" font-size="11" fill="#333">SD (sim.)</text>
<text x="454.8" y="350.7" font-size="11" fill="#333">BMSD (sim.)</text>
<text x="454.8" y="363.5" font-size="11" fill="#333">BMSD (exp.)</text>
<text x="485.7" y="536.8" font-size="11.8" fill="#333">Frequency (10log (<tspan font-style="italic">f</tspan><tspan dx="0.6">/</tspan><tspan font-style="italic" dx="0.4">f</tspan><tspan dy="3.2" font-size="7.5">0</tspan><tspan dy="-3.2">))</tspan></text>
<text transform="translate(391.7,432.4) rotate(-90) scale(0.94,1)" font-size="12" fill="#333"><tspan font-style="italic">d</tspan><tspan dy="3" font-size="8">n</tspan><tspan dy="-3"> (45</tspan><tspan font-size="13.5" dy="0.6">°</tspan><tspan dy="-0.6">)</tspan></text>
</svg></body></html>
